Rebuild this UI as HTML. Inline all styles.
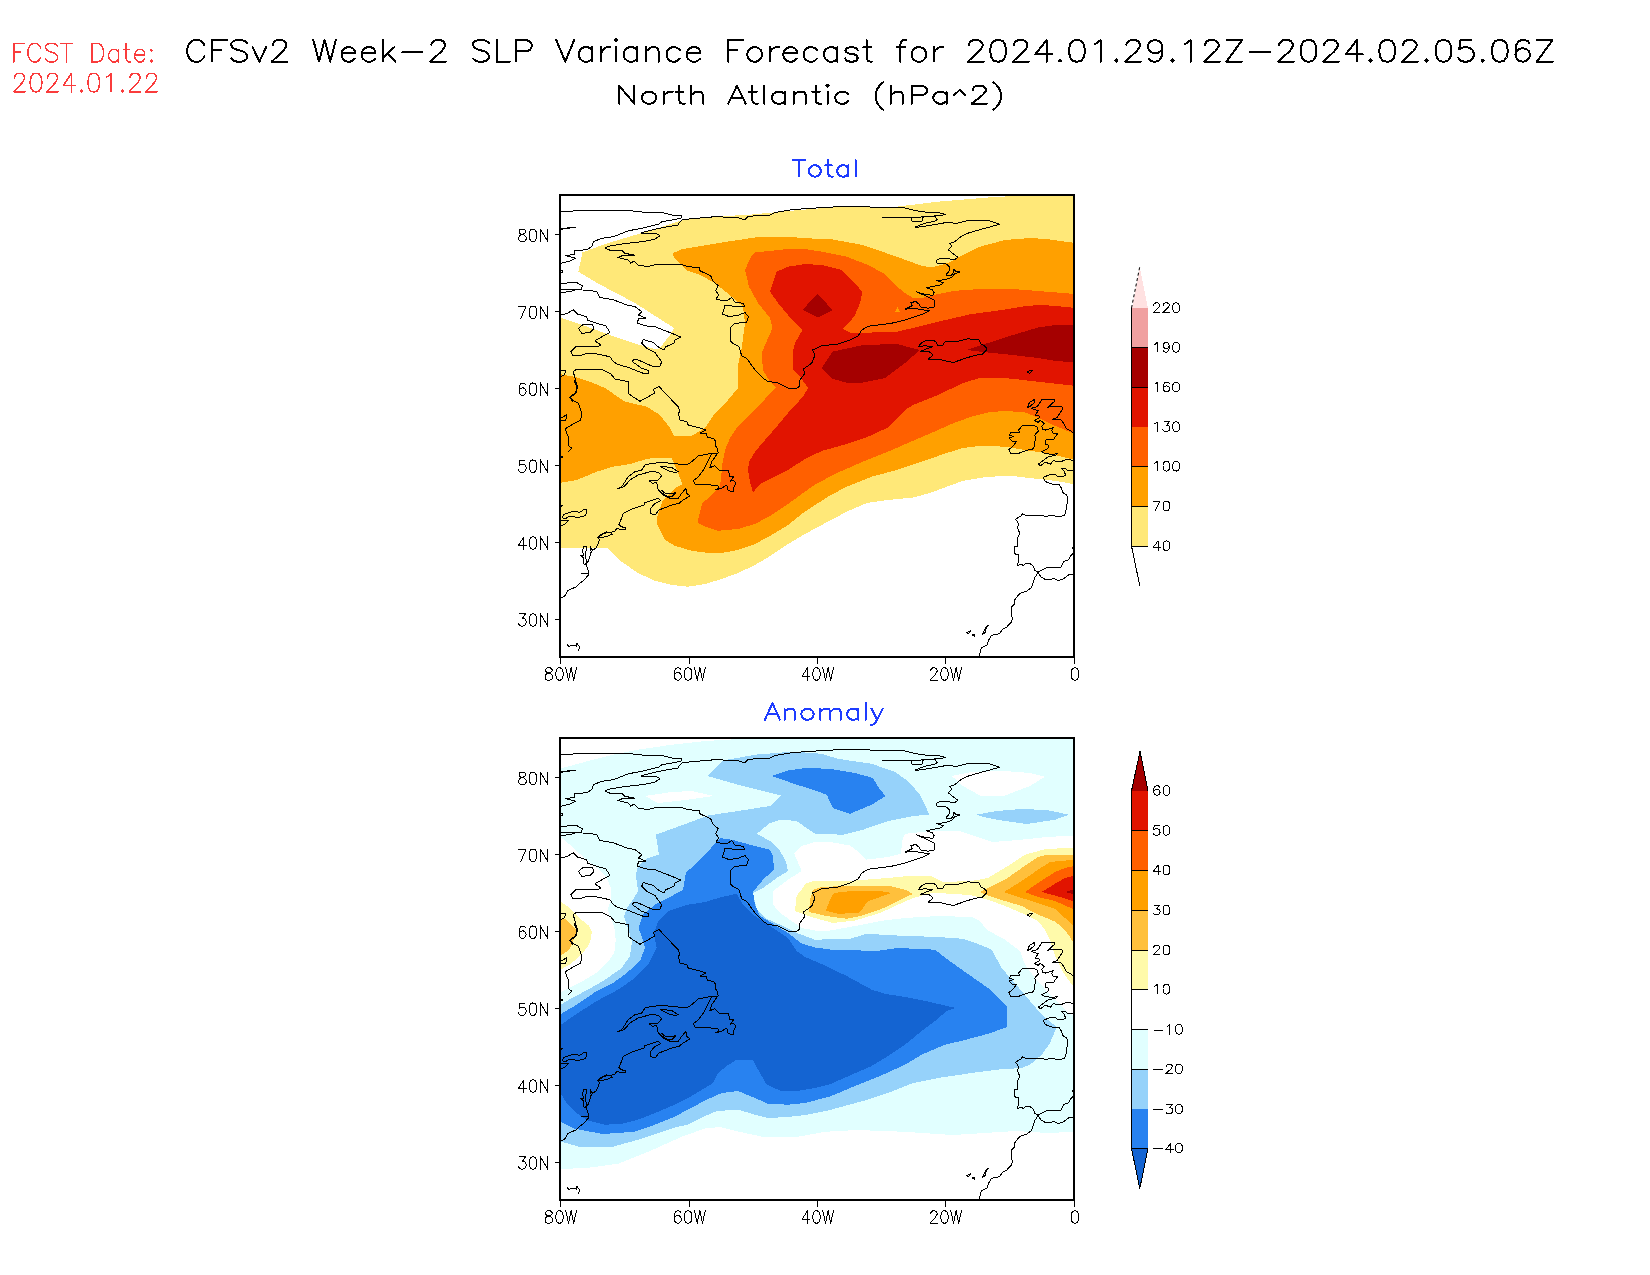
<!DOCTYPE html>
<html><head><meta charset="utf-8"><title>CFSv2 Week-2 SLP Variance Forecast - North Atlantic</title>
<style>
html,body{margin:0;padding:0;background:#fff;}
body{width:1650px;height:1275px;overflow:hidden;font-family:"Liberation Sans",sans-serif;}
svg{display:block;position:absolute;left:0;top:0;}
body{position:relative;}
.tl{position:absolute;left:0;top:0;width:1650px;height:1275px;overflow:hidden;}
.tl span{position:absolute;white-space:nowrap;line-height:1;color:transparent;font-family:"Liberation Sans",sans-serif;}
</style></head><body>
<svg width="1650" height="1275" viewBox="0 0 1650 1275">
<rect width="1650" height="1275" fill="#fff"/>
<defs>
<clipPath id="c1"><rect x="560" y="195" width="514" height="462"/></clipPath>
<clipPath id="c2"><rect x="560" y="737.7" width="514" height="462.5"/></clipPath>
<g id="coast" fill="none" stroke="#000" stroke-width="1" stroke-linejoin="round" shape-rendering="crispEdges">
<polyline points="560.8,211.3 580.8,210.8 606.7,210.3 626.7,210.3 641.7,212.0 661.7,212.5 671.7,215.0 681.7,215.8 680.8,218.3 671.7,220.0 661.7,221.7 659.0,224.0 641.7,228.3 628.3,230.8 613.3,236.7 601.7,238.3 593.3,241.7 591.7,246.7 586.7,249.7 574.0,250.8 575.0,254.0 565.8,255.8 575.8,258.3 570.8,260.8 560.8,263.3"/>
<polyline points="560.8,229.0 570.0,227.5 575.8,227.3 566.0,228.5 560.8,229.5"/>
<polyline points="560.8,270.0 562.5,270.0 562.5,272.5 560.8,272.5"/>
<polyline points="681.7,220.0 679.0,223.0 678.3,225.0 663.3,227.5 648.3,230.8 640.8,233.0 656.7,233.7 660.0,235.8 655.0,239.0 645.0,241.3 621.7,244.0 608.3,246.3 605.0,248.3 611.7,250.8 621.7,250.3 625.0,253.3 635.0,255.3 623.3,255.3 617.5,257.5 628.3,260.0 630.8,263.3 634.0,260.8 638.3,265.0 647.5,266.7 655.0,264.7 681.7,264.7 688.3,266.7 699.0,267.5 700.0,270.8 710.8,275.8 712.5,280.8 718.3,285.8 715.8,290.8 719.0,295.0 715.8,299.0 721.7,300.5 728.3,300.0 731.7,297.5 735.0,302.0 743.3,303.3 745.0,306.7 738.3,306.7 725.0,305.3 722.5,314.0 728.3,316.3 736.7,315.8 745.0,312.5 748.3,316.7 746.7,322.5 735.0,323.3 730.0,328.3 730.0,340.0 732.5,343.3 739.0,346.7 741.7,355.8 746.7,358.3 755.0,370.0 763.3,378.3 768.3,381.7 776.7,382.5 788.3,388.3 795.0,389.0 799.0,386.7 800.0,380.0 805.0,373.3 803.3,369.0 811.7,363.3 815.0,355.0 812.5,350.0 821.7,345.8 838.3,344.0 850.0,340.0 858.3,335.8 861.7,330.0 867.5,326.7 870.0,326.0 890.4,323.5 905.7,319.9 921.0,314.8 929.7,310.7 921.0,309.7 914.9,308.2 905.2,309.2 912.3,305.6 910.8,302.6 915.9,301.5 918.9,304.1 921.0,307.1 928.1,308.2 934.2,307.1 934.2,300.0 927.1,296.4 916.4,291.8 923.0,293.9 932.7,295.4 934.2,292.9 932.2,289.8 926.6,287.8 931.2,286.7 941.4,284.7 943.4,282.7 936.3,280.6 945.5,279.6 951.6,277.6 954.5,274.0 959.7,272.0 956.2,271.5 953.6,269.4 954.1,272.0 951.6,275.0 946.0,275.0 949.5,270.4 949.0,266.4 945.5,263.3 937.3,263.3 936.3,261.3 937.8,259.2 944.4,258.2 954.6,259.7 957.7,257.2 953.6,254.1 948.5,250.0 951.6,246.0 950.0,243.4 954.6,241.9 960.8,236.8 967.9,233.2 980.1,229.6 991.3,226.6 999.5,224.3 990.3,221.0 975.0,220.5 967.9,220.5 956.7,223.3 946.5,222.5 931.2,225.1 918.9,227.1 915.4,227.1 924.0,223.5 935.3,221.0 937.3,220.0 935.3,216.9 924.0,216.9 922.5,217.9 922.0,221.0 911.8,221.0 911.8,217.9 882.2,217.9 910.8,217.4 924.0,216.9 935.3,215.9 941.4,215.4 945.5,214.4 939.3,212.8 927.1,212.3 918.9,211.3 903.6,207.7 897.5,207.0 870.0,207.0 838.3,206.7 805.0,208.7 791.7,209.7 775.0,212.5 770.0,215.0 748.3,216.3 745.0,219.7 736.7,217.5 715.0,216.7 681.7,219.7"/>
<polyline points="560.8,283.3 576.7,282.5 582.5,285.8 580.8,290.0 575.0,289.0 560.8,289.7"/>
<polyline points="560.8,292.5 570.0,291.7 576.7,289.2"/>
<polyline points="582.5,290.0 596.7,291.3 600.0,297.5 613.3,299.7 626.7,305.0 635.0,306.7 641.7,311.7 638.3,315.0 645.8,318.0 638.3,319.0 637.5,323.3 645.0,325.8 655.0,326.7 671.7,333.3 680.8,337.0 675.0,340.0 674.0,343.3 665.8,346.7 664.0,350.0 659.0,347.5 653.3,342.5 643.3,339.5 641.7,343.3 646.7,348.3 655.0,352.5 659.0,358.3 661.7,361.7 660.0,366.3 653.3,366.7 638.3,360.0 633.3,359.7 632.5,361.7 641.7,368.3 649.0,370.8 648.3,373.3 643.3,373.3 628.3,367.5 616.7,364.0 612.5,360.8 610.0,356.7 596.7,354.0 586.7,353.3 581.7,355.0 572.5,355.0 570.8,351.7 575.8,346.7 588.3,346.7 596.7,347.0 600.8,345.0 595.0,340.8 605.0,335.0 610.0,332.5 605.8,325.8 596.7,323.3 587.5,320.0 586.7,317.0 577.5,314.0 573.3,309.7 566.7,313.7 560.8,314.7"/>
<polyline points="578.3,328.3 584.0,324.0 592.5,325.0 594.0,328.3 590.0,332.5 581.7,333.3 578.3,328.3"/>
<polyline points="560.8,370.8 565.8,370.8 564.0,375.0 560.8,376.7"/>
<polyline points="572.5,402.0 570.0,397.5 575.8,393.3 577.5,386.7 575.0,378.3 573.3,371.7 576.7,369.0 596.7,370.0 600.8,369.0 610.8,374.0 615.0,379.0 628.3,381.7 628.3,393.3 633.3,397.0 640.0,401.3 655.0,393.0 653.3,389.5 659.0,386.5 673.3,401.7 678.3,406.7 680.0,411.7 678.3,413.3 680.0,420.0 686.7,421.7 688.3,425.0 698.3,427.5 705.8,430.0 700.0,433.3 705.8,433.0 707.5,437.5 713.3,438.3 715.8,441.7 715.0,445.0 717.5,449.0 718.3,453.0 708.3,454.0 698.3,455.8 691.7,461.7 688.3,464.0 678.3,464.0 663.3,462.5 651.7,463.3 645.0,465.0 641.7,470.0 635.0,471.7 628.3,476.7 621.7,486.7 617.5,489.0 624.0,486.7 630.0,480.0 638.3,475.0 651.7,471.3 658.3,472.5 661.7,475.8 658.3,480.0 649.0,480.8 652.5,483.3 656.7,482.5 658.3,490.0 663.3,495.0 670.0,498.3 678.3,498.3 681.7,493.3 685.8,488.3 686.7,493.3 690.0,495.8 683.3,500.0 679.0,503.3 671.7,505.0 659.0,510.0 655.0,515.0 650.0,513.3 650.0,509.0 655.0,503.3 660.8,500.8 658.3,498.3 653.3,500.0 645.0,502.5 644.0,505.0 631.7,509.0 623.3,513.3 620.8,520.0 618.7,524.4 620.9,526.6 625.3,527.7 625.3,529.3 620.9,529.9 617.0,528.2 614.8,531.0 611.0,532.6 606.6,532.0 601.1,534.3 597.8,537.6 599.5,539.8 598.4,543.0 596.2,548.0 592.3,550.2 590.1,546.4 591.2,551.8 589.6,557.3 587.9,561.7 585.7,563.9 587.4,568.3 588.5,571.6 589.0,574.9 586.8,576.6 584.6,579.8 581.4,582.0 575.9,587.0 568.2,590.3 564.9,595.8 561.0,598.0"/>
<polyline points="597.8,537.6 603.3,533.7 609.9,532.0 612.1,534.3 606.6,536.5 601.1,537.6 597.8,537.6"/>
<polyline points="586.8,546.4 583.5,546.9 582.5,551.8 584.1,555.1 580.8,555.7 583.5,557.9 583.5,563.9 586.3,565.0 585.7,553.0 586.8,546.4"/>
<polyline points="581.4,573.3 588.5,573.3"/>
<polyline points="574.0,380.0 576.7,386.7 575.8,392.5 570.0,396.7 572.5,400.0 578.3,403.3 581.7,413.3 580.8,420.0 573.3,424.0 565.0,429.0 568.3,436.7 569.0,445.8 571.7,448.3 567.5,452.5"/>
<polyline points="560.8,418.3 566.7,414.7 565.8,420.8 560.8,420.0"/>
<polyline points="560.8,456.0 562.5,456.0 562.5,457.5 560.8,457.5"/>
<polyline points="562.0,517.2 563.8,514.5 568.7,512.6 574.2,511.2 579.7,512.3 584.0,509.6 586.9,509.3 585.8,515.6 582.5,516.2 578.6,517.3 575.3,517.3 573.0,516.2 568.7,516.4 566.0,518.4 563.8,518.4 562.0,517.2"/>
<polyline points="560.8,520.3 568.7,520.3 564.9,524.4 560.8,526.0"/>
<polyline points="560.8,505.0 562.7,505.5 560.8,507.0"/>
<polyline points="660.0,466.3 671.7,467.5 678.3,471.7 675.0,472.5 668.3,470.8 660.0,466.3"/>
<polyline points="661.7,490.0 665.0,493.3 671.7,494.0 675.8,492.5 671.7,496.7 665.0,495.8 661.7,490.0"/>
<polyline points="717.5,453.3 711.7,454.0 703.3,470.0 698.3,476.7 693.3,480.8 695.0,484.0 705.0,484.7 717.5,485.3 719.0,488.3 715.8,489.7 721.7,488.3 726.7,485.0 728.3,490.8 733.3,491.3 734.0,486.7 735.8,483.3 733.3,480.0 730.0,481.7 734.0,476.3 730.0,476.7 728.3,470.8 719.0,470.0 715.0,465.8 710.0,467.5 711.7,461.7 717.5,453.3"/>
<polyline points="918.3,346.7 921.7,342.5 927.5,340.0 933.3,340.0 936.7,342.5 937.5,345.8 942.5,345.8 945.0,341.7 951.7,342.0 960.8,340.8 969.0,338.3 971.7,340.0 979.0,339.7 980.8,344.0 985.8,346.7 986.7,350.0 982.5,354.0 973.3,355.8 963.3,359.0 953.3,362.5 941.7,360.0 928.3,359.0 933.3,355.0 929.0,351.7 920.0,351.3 928.3,348.3 932.5,346.7 925.0,345.8 918.3,346.7"/>
<polyline points="1026.7,371.7 1033.3,370.0 1030.0,373.3 1026.7,371.7"/>
<polyline points="1027.1,407.7 1029.7,402.1 1034.4,399.5 1034.0,402.9 1030.6,406.0 1027.1,407.7"/>
<polyline points="1072.8,460.3 1066.8,459.5 1060.8,461.6 1053.0,460.8 1050.4,464.2 1045.2,462.0 1040.5,465.9 1038.3,464.2 1048.7,456.4 1055.6,455.6 1057.7,453.4 1052.1,454.7 1043.9,453.0 1041.8,451.7 1047.8,448.7 1048.7,445.2 1045.2,443.9 1046.1,439.6 1053.8,439.6 1054.3,438.3 1057.7,433.6 1053.8,434.0 1051.7,430.6 1053.4,427.5 1045.2,430.1 1042.6,429.3 1041.8,426.2 1044.4,423.2 1040.0,420.2 1038.3,422.4 1034.4,420.6 1039.6,417.6 1039.2,415.9 1035.3,415.0 1038.3,410.7 1034.9,409.8 1031.4,408.1 1036.6,406.8 1038.7,404.7 1041.8,399.3 1054.3,399.3 1054.7,401.2 1047.8,407.3 1052.1,406.4 1061.6,406.4 1062.9,408.6 1056.9,417.6 1052.1,419.3 1060.8,419.8 1063.3,422.8 1066.4,428.8 1071.5,431.4 1072.8,433.1"/>
<polyline points="1022.4,425.2 1034.0,425.2 1037.0,427.1 1038.3,431.0 1034.9,434.9 1035.3,438.3 1034.4,446.9 1032.3,449.1 1026.2,450.4 1018.5,453.4 1010.7,453.4 1008.6,449.5 1011.6,447.8 1016.3,441.8 1011.6,440.9 1009.4,437.9 1013.7,436.6 1009.4,435.3 1010.7,432.7 1019.3,432.3 1018.5,429.7 1020.2,428.4 1022.4,425.2"/>
<polyline points="1072.8,470.2 1067.7,470.7 1065.1,468.5 1061.6,468.5 1064.2,471.5 1065.9,475.8 1058.2,476.7 1054.7,474.1 1050.4,474.6 1043.5,477.1 1044.4,480.6 1046.9,482.3 1053.8,484.5 1059.0,484.5 1061.6,488.4 1062.9,492.7 1066.8,494.8 1067.7,500.0 1067.2,503.8 1066.4,504.7 1065.9,512.4 1064.2,515.9 1055.6,516.3 1053.8,515.5 1049.5,515.9 1044.4,516.3 1043.1,515.5 1026.2,515.5 1022.4,513.7 1021.1,515.9 1015.5,519.3 1017.6,521.9 1018.5,524.1 1017.6,528.0 1019.3,532.3 1019.3,534.0 1017.6,538.3 1017.4,546.1 1015.0,546.5 1014.2,548.7 1014.6,553.0 1015.9,554.3 1018.6,554.3 1018.5,562.5 1017.4,564.2 1017.6,565.5 1021.1,564.2 1023.2,565.5 1026.2,563.3 1029.7,563.3 1032.7,565.5 1034.9,570.2 1037.9,572.4 1041.8,570.2 1046.9,567.7 1060.8,567.2 1064.2,561.2 1068.5,559.9 1070.2,556.4 1072.8,553.8"/>
<polyline points="1072.8,574.1 1068.9,574.6 1065.9,577.1 1062.5,579.3 1058.2,580.6 1053.8,578.4 1050.4,579.7 1045.2,579.3 1040.9,577.1 1039.2,574.1 1037.9,572.4 1036.2,575.4 1034.4,578.0 1033.1,583.2 1031.0,587.9 1026.2,591.4 1019.8,593.5 1014.3,600.2 1014.3,604.0 1011.0,607.7 1011.5,615.3 1012.4,618.1 1011.5,621.8 1006.3,627.5 1003.0,628.9 999.3,633.6 991.3,635.5 988.9,639.7 987.0,644.9 981.4,647.7 979.0,656.2"/>
<polyline points="966.3,632.7 970.6,630.8 968.2,634.1 966.3,632.7"/>
<polyline points="973.0,634.0 975.0,634.5 974.5,636.2 972.8,635.8 973.0,634.0"/>
<polyline points="982.3,634.1 985.2,628.4 988.4,625.1 986.1,628.0 985.2,632.7 982.3,634.1"/>
<polyline points="1072.6,546.6 1072.6,549.4"/>
<polyline points="567.1,644.6 568.7,646.3 573.7,645.2 576.4,646.3 577.0,643.5 579.7,646.8 578.6,650.7"/>
</g>
</defs>

<path d="M13.8 43.4 L13.8 61.9 M13.8 43.4 L24.7 43.4 M13.8 52.2 L20.5 52.2 M40.6 47.8 L39.8 46.0 L38.1 44.2 L36.4 43.4 L33.1 43.4 L31.4 44.2 L29.7 46.0 L28.9 47.8 L28.0 50.4 L28.0 54.8 L28.9 57.4 L29.7 59.2 L31.4 61.0 L33.1 61.9 L36.4 61.9 L38.1 61.0 L39.8 59.2 L40.6 57.4 M57.4 46.0 L55.7 44.2 L53.2 43.4 L49.8 43.4 L47.3 44.2 L45.6 46.0 L45.6 47.8 L46.5 49.5 L47.3 50.4 L49.0 51.3 L54.0 53.0 L55.7 53.9 L56.6 54.8 L57.4 56.6 L57.4 59.2 L55.7 61.0 L53.2 61.9 L49.8 61.9 L47.3 61.0 L45.6 59.2 M66.6 43.4 L66.6 61.9 M60.8 43.4 L72.5 43.4 M91.8 43.4 L91.8 61.9 M91.8 43.4 L97.7 43.4 L100.2 44.2 L101.9 46.0 L102.7 47.8 L103.6 50.4 L103.6 54.8 L102.7 57.4 L101.9 59.2 L100.2 61.0 L97.7 61.9 L91.8 61.9 M118.7 49.5 L118.7 61.9 M118.7 52.2 L117.0 50.4 L115.3 49.5 L112.8 49.5 L111.1 50.4 L109.4 52.2 L108.6 54.8 L108.6 56.6 L109.4 59.2 L111.1 61.0 L112.8 61.9 L115.3 61.9 L117.0 61.0 L118.7 59.2 M126.2 43.4 L126.2 58.3 L127.1 61.0 L128.7 61.9 L130.4 61.9 M123.7 49.5 L129.6 49.5 M134.6 54.8 L144.7 54.8 L144.7 53.0 L143.9 51.3 L143.0 50.4 L141.3 49.5 L138.8 49.5 L137.1 50.4 L135.5 52.2 L134.6 54.8 L134.6 56.6 L135.5 59.2 L137.1 61.0 L138.8 61.9 L141.3 61.9 L143.0 61.0 L144.7 59.2 M151.4 49.5 L150.6 50.4 L151.4 51.3 L152.2 50.4 L151.4 49.5 M151.4 60.1 L150.6 61.0 L151.4 61.9 L152.2 61.0 L151.4 60.1" stroke="#fa3c3c" stroke-width="1.5" fill="none" stroke-linecap="round" stroke-linejoin="round" shape-rendering="crispEdges"><title>FCST Date:</title></path>
<path d="M14.6 77.8 L14.6 76.9 L15.4 75.1 L16.2 74.2 L17.9 73.3 L21.2 73.3 L22.8 74.2 L23.6 75.1 L24.5 76.9 L24.5 78.6 L23.6 80.4 L22.0 83.0 L13.8 91.8 L25.3 91.8 M35.2 73.3 L32.7 74.2 L31.1 76.9 L30.2 81.3 L30.2 83.9 L31.1 88.3 L32.7 91.0 L35.2 91.8 L36.8 91.8 L39.3 91.0 L41.0 88.3 L41.8 83.9 L41.8 81.3 L41.0 76.9 L39.3 74.2 L36.8 73.3 L35.2 73.3 M47.6 77.8 L47.6 76.9 L48.4 75.1 L49.2 74.2 L50.9 73.3 L54.2 73.3 L55.8 74.2 L56.6 75.1 L57.5 76.9 L57.5 78.6 L56.6 80.4 L55.0 83.0 L46.7 91.8 L58.3 91.8 M71.5 73.3 L63.2 85.7 L75.6 85.7 M71.5 73.3 L71.5 91.8 M81.4 90.1 L80.6 91.0 L81.4 91.8 L82.2 91.0 L81.4 90.1 M92.9 73.3 L90.4 74.2 L88.8 76.9 L88.0 81.3 L88.0 83.9 L88.8 88.3 L90.4 91.0 L92.9 91.8 L94.6 91.8 L97.0 91.0 L98.7 88.3 L99.5 83.9 L99.5 81.3 L98.7 76.9 L97.0 74.2 L94.6 73.3 L92.9 73.3 M106.9 76.9 L108.6 76.0 L111.1 73.3 L111.1 91.8 M122.6 90.1 L121.8 91.0 L122.6 91.8 L123.4 91.0 L122.6 90.1 M130.0 77.8 L130.0 76.9 L130.9 75.1 L131.7 74.2 L133.3 73.3 L136.6 73.3 L138.3 74.2 L139.1 75.1 L139.9 76.9 L139.9 78.6 L139.1 80.4 L137.5 83.0 L129.2 91.8 L140.8 91.8 M146.5 77.8 L146.5 76.9 L147.4 75.1 L148.2 74.2 L149.8 73.3 L153.1 73.3 L154.8 74.2 L155.6 75.1 L156.4 76.9 L156.4 78.6 L155.6 80.4 L154.0 83.0 L145.7 91.8 L157.2 91.8" stroke="#fa3c3c" stroke-width="1.5" fill="none" stroke-linecap="round" stroke-linejoin="round" shape-rendering="crispEdges"><title>2024.01.22</title></path>
<path d="M204.3 45.1 L203.1 43.1 L200.9 41.0 L198.6 40.0 L194.1 40.0 L191.9 41.0 L189.6 43.1 L188.5 45.1 L187.4 48.2 L187.4 53.4 L188.5 56.5 L189.6 58.5 L191.9 60.6 L194.1 61.6 L198.6 61.6 L200.9 60.6 L203.1 58.5 L204.3 56.5 M212.1 40.0 L212.1 61.6 M212.1 40.0 L226.8 40.0 M212.1 50.3 L221.1 50.3 M247.0 43.1 L244.8 41.0 L241.4 40.0 L236.9 40.0 L233.5 41.0 L231.3 43.1 L231.3 45.1 L232.4 47.2 L233.5 48.2 L235.8 49.3 L242.5 51.3 L244.8 52.3 L245.9 53.4 L247.0 55.4 L247.0 58.5 L244.8 60.6 L241.4 61.6 L236.9 61.6 L233.5 60.6 L231.3 58.5 M252.6 47.2 L259.4 61.6 M266.1 47.2 L259.4 61.6 M272.9 45.1 L272.9 44.1 L274.0 42.1 L275.1 41.0 L277.4 40.0 L281.9 40.0 L284.1 41.0 L285.2 42.1 L286.4 44.1 L286.4 46.2 L285.2 48.2 L283.0 51.3 L271.7 61.6 L287.5 61.6 M313.3 40.0 L319.0 61.6 M324.6 40.0 L319.0 61.6 M324.6 40.0 L330.2 61.6 M335.8 40.0 L330.2 61.6 M341.5 53.4 L355.0 53.4 L355.0 51.3 L353.8 49.3 L352.7 48.2 L350.5 47.2 L347.1 47.2 L344.8 48.2 L342.6 50.3 L341.5 53.4 L341.5 55.4 L342.6 58.5 L344.8 60.6 L347.1 61.6 L350.5 61.6 L352.7 60.6 L355.0 58.5 M361.7 53.4 L375.2 53.4 L375.2 51.3 L374.1 49.3 L373.0 48.2 L370.7 47.2 L367.3 47.2 L365.1 48.2 L362.8 50.3 L361.7 53.4 L361.7 55.4 L362.8 58.5 L365.1 60.6 L367.3 61.6 L370.7 61.6 L373.0 60.6 L375.2 58.5 M383.1 40.0 L383.1 61.6 M394.3 47.2 L383.1 57.5 M387.6 53.4 L395.4 61.6 M402.2 52.3 L422.4 52.3 M431.4 45.1 L431.4 44.1 L432.6 42.1 L433.7 41.0 L435.9 40.0 L440.4 40.0 L442.7 41.0 L443.8 42.1 L444.9 44.1 L444.9 46.2 L443.8 48.2 L441.5 51.3 L430.3 61.6 L446.0 61.6 M488.8 43.1 L486.5 41.0 L483.2 40.0 L478.7 40.0 L475.3 41.0 L473.0 43.1 L473.0 45.1 L474.2 47.2 L475.3 48.2 L477.5 49.3 L484.3 51.3 L486.5 52.3 L487.7 53.4 L488.8 55.4 L488.8 58.5 L486.5 60.6 L483.2 61.6 L478.7 61.6 L475.3 60.6 L473.0 58.5 M496.7 40.0 L496.7 61.6 M496.7 61.6 L510.1 61.6 M515.8 40.0 L515.8 61.6 M515.8 40.0 L525.9 40.0 L529.3 41.0 L530.4 42.1 L531.5 44.1 L531.5 47.2 L530.4 49.3 L529.3 50.3 L525.9 51.3 L515.8 51.3 M556.3 40.0 L565.2 61.6 M574.2 40.0 L565.2 61.6 M592.2 47.2 L592.2 61.6 M592.2 50.3 L590.0 48.2 L587.7 47.2 L584.4 47.2 L582.1 48.2 L579.9 50.3 L578.7 53.4 L578.7 55.4 L579.9 58.5 L582.1 60.6 L584.4 61.6 L587.7 61.6 L590.0 60.6 L592.2 58.5 M601.2 47.2 L601.2 61.6 M601.2 53.4 L602.4 50.3 L604.6 48.2 L606.9 47.2 L610.2 47.2 M614.7 40.0 L615.9 41.0 L617.0 40.0 L615.9 39.0 L614.7 40.0 M615.9 47.2 L615.9 61.6 M637.2 47.2 L637.2 61.6 M637.2 50.3 L635.0 48.2 L632.7 47.2 L629.3 47.2 L627.1 48.2 L624.8 50.3 L623.7 53.4 L623.7 55.4 L624.8 58.5 L627.1 60.6 L629.3 61.6 L632.7 61.6 L635.0 60.6 L637.2 58.5 M646.2 47.2 L646.2 61.6 M646.2 51.3 L649.6 48.2 L651.8 47.2 L655.2 47.2 L657.5 48.2 L658.6 51.3 L658.6 61.6 M680.0 50.3 L677.7 48.2 L675.5 47.2 L672.1 47.2 L669.8 48.2 L667.6 50.3 L666.5 53.4 L666.5 55.4 L667.6 58.5 L669.8 60.6 L672.1 61.6 L675.5 61.6 L677.7 60.6 L680.0 58.5 M686.7 53.4 L700.2 53.4 L700.2 51.3 L699.1 49.3 L697.9 48.2 L695.7 47.2 L692.3 47.2 L690.1 48.2 L687.8 50.3 L686.7 53.4 L686.7 55.4 L687.8 58.5 L690.1 60.6 L692.3 61.6 L695.7 61.6 L697.9 60.6 L700.2 58.5 M728.3 40.0 L728.3 61.6 M728.3 40.0 L742.9 40.0 M728.3 50.3 L737.3 50.3 M753.0 47.2 L750.8 48.2 L748.5 50.3 L747.4 53.4 L747.4 55.4 L748.5 58.5 L750.8 60.6 L753.0 61.6 L756.4 61.6 L758.7 60.6 L760.9 58.5 L762.0 55.4 L762.0 53.4 L760.9 50.3 L758.7 48.2 L756.4 47.2 L753.0 47.2 M769.9 47.2 L769.9 61.6 M769.9 53.4 L771.0 50.3 L773.3 48.2 L775.5 47.2 L778.9 47.2 M783.4 53.4 L796.9 53.4 L796.9 51.3 L795.8 49.3 L794.7 48.2 L792.4 47.2 L789.0 47.2 L786.8 48.2 L784.5 50.3 L783.4 53.4 L783.4 55.4 L784.5 58.5 L786.8 60.6 L789.0 61.6 L792.4 61.6 L794.7 60.6 L796.9 58.5 M817.1 50.3 L814.9 48.2 L812.6 47.2 L809.3 47.2 L807.0 48.2 L804.8 50.3 L803.7 53.4 L803.7 55.4 L804.8 58.5 L807.0 60.6 L809.3 61.6 L812.6 61.6 L814.9 60.6 L817.1 58.5 M837.4 47.2 L837.4 61.6 M837.4 50.3 L835.1 48.2 L832.9 47.2 L829.5 47.2 L827.3 48.2 L825.0 50.3 L823.9 53.4 L823.9 55.4 L825.0 58.5 L827.3 60.6 L829.5 61.6 L832.9 61.6 L835.1 60.6 L837.4 58.5 M857.6 50.3 L856.5 48.2 L853.1 47.2 L849.8 47.2 L846.4 48.2 L845.3 50.3 L846.4 52.3 L848.6 53.4 L854.3 54.4 L856.5 55.4 L857.6 57.5 L857.6 58.5 L856.5 60.6 L853.1 61.6 L849.8 61.6 L846.4 60.6 L845.3 58.5 M866.6 40.0 L866.6 57.5 L867.8 60.6 L870.0 61.6 L872.2 61.6 M863.3 47.2 L871.1 47.2 M906.0 40.0 L903.7 40.0 L901.5 41.0 L900.4 44.1 L900.4 61.6 M897.0 47.2 L904.9 47.2 M917.2 47.2 L915.0 48.2 L912.7 50.3 L911.6 53.4 L911.6 55.4 L912.7 58.5 L915.0 60.6 L917.2 61.6 L920.6 61.6 L922.9 60.6 L925.1 58.5 L926.2 55.4 L926.2 53.4 L925.1 50.3 L922.9 48.2 L920.6 47.2 L917.2 47.2 M934.1 47.2 L934.1 61.6 M934.1 53.4 L935.2 50.3 L937.5 48.2 L939.7 47.2 L943.1 47.2 M969.0 45.1 L969.0 44.1 L970.1 42.1 L971.2 41.0 L973.5 40.0 L978.0 40.0 L980.2 41.0 L981.3 42.1 L982.5 44.1 L982.5 46.2 L981.3 48.2 L979.1 51.3 L967.8 61.6 L983.6 61.6 M997.1 40.0 L993.7 41.0 L991.5 44.1 L990.3 49.3 L990.3 52.3 L991.5 57.5 L993.7 60.6 L997.1 61.6 L999.3 61.6 L1002.7 60.6 L1004.9 57.5 L1006.1 52.3 L1006.1 49.3 L1004.9 44.1 L1002.7 41.0 L999.3 40.0 L997.1 40.0 M1013.9 45.1 L1013.9 44.1 L1015.1 42.1 L1016.2 41.0 L1018.4 40.0 L1022.9 40.0 L1025.2 41.0 L1026.3 42.1 L1027.4 44.1 L1027.4 46.2 L1026.3 48.2 L1024.1 51.3 L1012.8 61.6 L1028.6 61.6 M1046.6 40.0 L1035.3 54.4 L1052.2 54.4 M1046.6 40.0 L1046.6 61.6 M1060.0 59.5 L1058.9 60.6 L1060.0 61.6 L1061.2 60.6 L1060.0 59.5 M1075.8 40.0 L1072.4 41.0 L1070.2 44.1 L1069.0 49.3 L1069.0 52.3 L1070.2 57.5 L1072.4 60.6 L1075.8 61.6 L1078.0 61.6 L1081.4 60.6 L1083.7 57.5 L1084.8 52.3 L1084.8 49.3 L1083.7 44.1 L1081.4 41.0 L1078.0 40.0 L1075.8 40.0 M1094.9 44.1 L1097.2 43.1 L1100.5 40.0 L1100.5 61.6 M1116.3 59.5 L1115.2 60.6 L1116.3 61.6 L1117.4 60.6 L1116.3 59.5 M1126.4 45.1 L1126.4 44.1 L1127.5 42.1 L1128.6 41.0 L1130.9 40.0 L1135.4 40.0 L1137.6 41.0 L1138.8 42.1 L1139.9 44.1 L1139.9 46.2 L1138.8 48.2 L1136.5 51.3 L1125.3 61.6 L1141.0 61.6 M1162.4 47.2 L1161.3 50.3 L1159.0 52.3 L1155.6 53.4 L1154.5 53.4 L1151.1 52.3 L1148.9 50.3 L1147.8 47.2 L1147.8 46.2 L1148.9 43.1 L1151.1 41.0 L1154.5 40.0 L1155.6 40.0 L1159.0 41.0 L1161.3 43.1 L1162.4 47.2 L1162.4 52.3 L1161.3 57.5 L1159.0 60.6 L1155.6 61.6 L1153.4 61.6 L1150.0 60.6 L1148.9 58.5 M1172.5 59.5 L1171.4 60.6 L1172.5 61.6 L1173.6 60.6 L1172.5 59.5 M1184.9 44.1 L1187.1 43.1 L1190.5 40.0 L1190.5 61.6 M1205.1 45.1 L1205.1 44.1 L1206.2 42.1 L1207.4 41.0 L1209.6 40.0 L1214.1 40.0 L1216.4 41.0 L1217.5 42.1 L1218.6 44.1 L1218.6 46.2 L1217.5 48.2 L1215.2 51.3 L1204.0 61.6 L1219.7 61.6 M1242.2 40.0 L1226.5 61.6 M1226.5 40.0 L1242.2 40.0 M1226.5 61.6 L1242.2 61.6 M1250.1 52.3 L1270.3 52.3 M1279.3 45.1 L1279.3 44.1 L1280.5 42.1 L1281.6 41.0 L1283.8 40.0 L1288.3 40.0 L1290.6 41.0 L1291.7 42.1 L1292.8 44.1 L1292.8 46.2 L1291.7 48.2 L1289.5 51.3 L1278.2 61.6 L1294.0 61.6 M1307.4 40.0 L1304.1 41.0 L1301.8 44.1 L1300.7 49.3 L1300.7 52.3 L1301.8 57.5 L1304.1 60.6 L1307.4 61.6 L1309.7 61.6 L1313.1 60.6 L1315.3 57.5 L1316.4 52.3 L1316.4 49.3 L1315.3 44.1 L1313.1 41.0 L1309.7 40.0 L1307.4 40.0 M1324.3 45.1 L1324.3 44.1 L1325.4 42.1 L1326.6 41.0 L1328.8 40.0 L1333.3 40.0 L1335.6 41.0 L1336.7 42.1 L1337.8 44.1 L1337.8 46.2 L1336.7 48.2 L1334.4 51.3 L1323.2 61.6 L1338.9 61.6 M1356.9 40.0 L1345.7 54.4 L1362.6 54.4 M1356.9 40.0 L1356.9 61.6 M1370.4 59.5 L1369.3 60.6 L1370.4 61.6 L1371.5 60.6 L1370.4 59.5 M1386.2 40.0 L1382.8 41.0 L1380.5 44.1 L1379.4 49.3 L1379.4 52.3 L1380.5 57.5 L1382.8 60.6 L1386.2 61.6 L1388.4 61.6 L1391.8 60.6 L1394.0 57.5 L1395.2 52.3 L1395.2 49.3 L1394.0 44.1 L1391.8 41.0 L1388.4 40.0 L1386.2 40.0 M1403.0 45.1 L1403.0 44.1 L1404.2 42.1 L1405.3 41.0 L1407.5 40.0 L1412.0 40.0 L1414.3 41.0 L1415.4 42.1 L1416.5 44.1 L1416.5 46.2 L1415.4 48.2 L1413.2 51.3 L1401.9 61.6 L1417.7 61.6 M1426.7 59.5 L1425.5 60.6 L1426.7 61.6 L1427.8 60.6 L1426.7 59.5 M1442.4 40.0 L1439.0 41.0 L1436.8 44.1 L1435.6 49.3 L1435.6 52.3 L1436.8 57.5 L1439.0 60.6 L1442.4 61.6 L1444.6 61.6 L1448.0 60.6 L1450.3 57.5 L1451.4 52.3 L1451.4 49.3 L1450.3 44.1 L1448.0 41.0 L1444.6 40.0 L1442.4 40.0 M1471.6 40.0 L1460.4 40.0 L1459.3 49.3 L1460.4 48.2 L1463.8 47.2 L1467.1 47.2 L1470.5 48.2 L1472.8 50.3 L1473.9 53.4 L1473.9 55.4 L1472.8 58.5 L1470.5 60.6 L1467.1 61.6 L1463.8 61.6 L1460.4 60.6 L1459.3 59.5 L1458.1 57.5 M1482.9 59.5 L1481.8 60.6 L1482.9 61.6 L1484.0 60.6 L1482.9 59.5 M1498.6 40.0 L1495.2 41.0 L1493.0 44.1 L1491.9 49.3 L1491.9 52.3 L1493.0 57.5 L1495.2 60.6 L1498.6 61.6 L1500.9 61.6 L1504.2 60.6 L1506.5 57.5 L1507.6 52.3 L1507.6 49.3 L1506.5 44.1 L1504.2 41.0 L1500.9 40.0 L1498.6 40.0 M1529.0 43.1 L1527.9 41.0 L1524.5 40.0 L1522.2 40.0 L1518.9 41.0 L1516.6 44.1 L1515.5 49.3 L1515.5 54.4 L1516.6 58.5 L1518.9 60.6 L1522.2 61.6 L1523.4 61.6 L1526.7 60.6 L1529.0 58.5 L1530.1 55.4 L1530.1 54.4 L1529.0 51.3 L1526.7 49.3 L1523.4 48.2 L1522.2 48.2 L1518.9 49.3 L1516.6 51.3 L1515.5 54.4 M1552.6 40.0 L1536.9 61.6 M1536.9 40.0 L1552.6 40.0 M1536.9 61.6 L1552.6 61.6" stroke="#000" stroke-width="2" fill="none" stroke-linecap="round" stroke-linejoin="round" shape-rendering="crispEdges"><title>CFSv2 Week-2 SLP Variance Forecast for 2024.01.29.12Z-2024.02.05.06Z</title></path>
<path d="M619.1 85.7 L619.1 103.7 M619.1 85.7 L634.4 103.7 M634.4 85.7 L634.4 103.7 M647.5 91.7 L645.3 92.6 L643.1 94.3 L642.0 96.8 L642.0 98.6 L643.1 101.1 L645.3 102.8 L647.5 103.7 L650.8 103.7 L652.9 102.8 L655.1 101.1 L656.2 98.6 L656.2 96.8 L655.1 94.3 L652.9 92.6 L650.8 91.7 L647.5 91.7 M663.8 91.7 L663.8 103.7 M663.8 96.8 L664.9 94.3 L667.1 92.6 L669.3 91.7 L672.6 91.7 M679.1 85.7 L679.1 100.3 L680.2 102.8 L682.4 103.7 L684.6 103.7 M675.9 91.7 L683.5 91.7 M691.1 85.7 L691.1 103.7 M691.1 95.1 L694.4 92.6 L696.6 91.7 L699.9 91.7 L702.0 92.6 L703.1 95.1 L703.1 103.7 M737.0 85.7 L728.2 103.7 M737.0 85.7 L745.7 103.7 M731.5 97.7 L742.4 97.7 M752.3 85.7 L752.3 100.3 L753.3 102.8 L755.5 103.7 L757.7 103.7 M749.0 91.7 L756.6 91.7 M764.3 85.7 L764.3 103.7 M785.0 91.7 L785.0 103.7 M785.0 94.3 L782.8 92.6 L780.6 91.7 L777.4 91.7 L775.2 92.6 L773.0 94.3 L771.9 96.8 L771.9 98.6 L773.0 101.1 L775.2 102.8 L777.4 103.7 L780.6 103.7 L782.8 102.8 L785.0 101.1 M793.7 91.7 L793.7 103.7 M793.7 95.1 L797.0 92.6 L799.2 91.7 L802.5 91.7 L804.6 92.6 L805.7 95.1 L805.7 103.7 M815.6 85.7 L815.6 100.3 L816.6 102.8 L818.8 103.7 L821.0 103.7 M812.3 91.7 L819.9 91.7 M826.5 85.7 L827.6 86.6 L828.7 85.7 L827.6 84.8 L826.5 85.7 M827.6 91.7 L827.6 103.7 M848.3 94.3 L846.1 92.6 L843.9 91.7 L840.7 91.7 L838.5 92.6 L836.3 94.3 L835.2 96.8 L835.2 98.6 L836.3 101.1 L838.5 102.8 L840.7 103.7 L843.9 103.7 L846.1 102.8 L848.3 101.1 M883.2 82.3 L881.0 84.0 L878.9 86.6 L876.7 90.0 L875.6 94.3 L875.6 97.7 L876.7 102.0 L878.9 105.4 L881.0 108.0 L883.2 109.7 M890.9 85.7 L890.9 103.7 M890.9 95.1 L894.1 92.6 L896.3 91.7 L899.6 91.7 L901.8 92.6 L902.9 95.1 L902.9 103.7 M911.6 85.7 L911.6 103.7 M911.6 85.7 L921.4 85.7 L924.7 86.6 L925.8 87.4 L926.9 89.1 L926.9 91.7 L925.8 93.4 L924.7 94.3 L921.4 95.1 L911.6 95.1 M946.5 91.7 L946.5 103.7 M946.5 94.3 L944.3 92.6 L942.2 91.7 L938.9 91.7 L936.7 92.6 L934.5 94.3 L933.4 96.8 L933.4 98.6 L934.5 101.1 L936.7 102.8 L938.9 103.7 L942.2 103.7 L944.3 102.8 L946.5 101.1 M954.2 95.1 L959.6 90.0 L965.1 95.1 M972.7 90.0 L972.7 89.1 L973.8 87.4 L974.9 86.6 L977.1 85.7 L981.5 85.7 L983.6 86.6 L984.7 87.4 L985.8 89.1 L985.8 90.8 L984.7 92.6 L982.5 95.1 L971.6 103.7 L986.9 103.7 M993.5 82.3 L995.6 84.0 L997.8 86.6 L1000.0 90.0 L1001.1 94.3 L1001.1 97.7 L1000.0 102.0 L997.8 105.4 L995.6 108.0 L993.5 109.7" stroke="#000" stroke-width="2" fill="none" stroke-linecap="round" stroke-linejoin="round" shape-rendering="crispEdges"><title>North Atlantic (hPa^2)</title></path>
<path d="M798.9 159.8 L798.9 176.5 M792.5 159.8 L805.3 159.8 M813.5 165.4 L811.7 166.2 L809.8 167.8 L808.9 170.1 L808.9 171.7 L809.8 174.1 L811.7 175.7 L813.5 176.5 L816.2 176.5 L818.1 175.7 L819.9 174.1 L820.8 171.7 L820.8 170.1 L819.9 167.8 L818.1 166.2 L816.2 165.4 L813.5 165.4 M828.1 159.8 L828.1 173.3 L829.0 175.7 L830.8 176.5 L832.7 176.5 M825.4 165.4 L831.8 165.4 M848.2 165.4 L848.2 176.5 M848.2 167.8 L846.4 166.2 L844.5 165.4 L841.8 165.4 L840.0 166.2 L838.2 167.8 L837.2 170.1 L837.2 171.7 L838.2 174.1 L840.0 175.7 L841.8 176.5 L844.5 176.5 L846.4 175.7 L848.2 174.1 M855.5 159.8 L855.5 176.5" stroke="#1e3cff" stroke-width="2" fill="none" stroke-linecap="round" stroke-linejoin="round" shape-rendering="crispEdges"><title>Total</title></path>
<path d="M772.4 703.2 L764.9 719.7 M772.4 703.2 L779.9 719.7 M767.7 714.2 L777.1 714.2 M784.5 708.7 L784.5 719.7 M784.5 711.8 L787.3 709.5 L789.2 708.7 L792.0 708.7 L793.9 709.5 L794.8 711.8 L794.8 719.7 M806.0 708.7 L804.2 709.5 L802.3 711.1 L801.4 713.4 L801.4 715.0 L802.3 717.3 L804.2 718.9 L806.0 719.7 L808.8 719.7 L810.7 718.9 L812.6 717.3 L813.5 715.0 L813.5 713.4 L812.6 711.1 L810.7 709.5 L808.8 708.7 L806.0 708.7 M820.1 708.7 L820.1 719.7 M820.1 711.8 L822.9 709.5 L824.7 708.7 L827.5 708.7 L829.4 709.5 L830.3 711.8 L830.3 719.7 M830.3 711.8 L833.1 709.5 L835.0 708.7 L837.8 708.7 L839.7 709.5 L840.6 711.8 L840.6 719.7 M858.4 708.7 L858.4 719.7 M858.4 711.1 L856.5 709.5 L854.7 708.7 L851.8 708.7 L850.0 709.5 L848.1 711.1 L847.2 713.4 L847.2 715.0 L848.1 717.3 L850.0 718.9 L851.8 719.7 L854.7 719.7 L856.5 718.9 L858.4 717.3 M865.9 703.2 L865.9 719.7 M871.5 708.7 L877.1 719.7 M882.7 708.7 L877.1 719.7 L875.2 722.8 L873.4 724.4 L871.5 725.2 L870.5 725.2" stroke="#1e3cff" stroke-width="2" fill="none" stroke-linecap="round" stroke-linejoin="round" shape-rendering="crispEdges"><title>Anomaly</title></path>
<g clip-path="url(#c1)" shape-rendering="crispEdges">
<polygon points="1075.0,194.0 1075.0,484.0 1073.0,484.0 1055.0,480.8 1038.0,479.0 1013.0,476.0 988.0,476.7 963.0,480.8 946.7,486.7 930.0,493.0 913.0,497.5 888.0,500.0 866.7,503.0 846.7,511.7 821.7,525.0 805.0,534.0 788.0,544.0 771.7,555.0 755.0,565.0 738.0,573.0 721.7,579.0 705.0,584.0 688.0,586.7 671.7,585.0 655.0,580.8 638.0,573.0 621.7,561.7 608.0,548.3 559.0,548.3 559.0,318.0 561.0,318.0 577.0,323.0 610.0,335.0 633.0,343.0 655.0,349.0 659.0,349.0 670.0,335.0 674.0,328.0 635.0,303.0 597.0,283.0 578.3,271.7 582.5,252.5 605.0,244.0 655.0,229.0 682.0,220.0 737.0,215.3 747.0,215.0 788.0,211.0 830.0,207.5 838.0,206.7 896.7,206.7 938.0,201.7 988.0,197.5 1013.0,196.0 1040.0,194.0" fill="#ffe878"/>
<polygon points="1075.0,243.0 1046.7,239.0 1030.0,238.0 1005.0,240.0 980.0,246.7 963.0,255.0 948.0,263.0 931.7,267.5 921.7,265.8 896.7,256.7 863.0,245.0 830.0,239.0 805.0,238.3 788.0,236.7 755.0,237.5 721.7,242.5 681.7,249.2 672.5,253.3 675.0,259.0 688.0,271.0 700.0,275.0 715.0,283.0 731.7,296.7 743.0,306.7 745.0,323.0 741.7,348.0 738.0,365.0 738.0,388.0 726.7,401.7 715.0,413.0 705.0,428.0 691.7,435.8 674.0,435.8 670.0,428.0 660.0,415.0 646.7,406.7 625.0,401.7 605.0,388.0 590.7,382.0 575.4,376.9 560.6,374.3 559.0,374.0 559.0,483.0 576.7,480.0 596.7,471.7 613.0,466.7 630.0,464.0 646.7,459.0 658.0,457.5 671.7,458.0 678.0,473.0 682.5,484.0 675.0,488.0 663.0,500.0 656.7,518.0 657.5,525.0 665.0,540.0 675.0,545.8 691.7,550.8 705.0,552.5 721.7,553.0 738.0,550.0 755.0,544.0 771.7,535.0 788.0,525.0 801.7,514.0 815.0,505.0 830.0,495.5 846.7,486.7 871.7,476.7 896.7,470.0 921.7,461.7 946.7,453.0 963.0,448.0 980.0,445.8 1005.0,446.7 1030.0,450.8 1046.7,453.0 1075.0,460.0" fill="#ffa000"/>
<polygon points="1075.0,294.0 1046.7,291.7 1013.0,289.0 980.0,289.0 955.0,290.8 938.0,294.0 921.7,298.0 913.0,298.0 905.0,293.0 895.0,285.0 883.0,273.0 868.0,265.0 846.7,256.7 821.7,251.7 805.0,249.0 788.0,249.0 755.0,252.5 751.0,256.7 745.0,270.0 749.0,286.7 758.0,303.0 770.0,318.0 772.5,328.0 765.0,345.0 761.7,353.0 763.0,370.0 770.0,381.7 776.0,388.0 770.0,393.0 761.7,403.0 746.7,418.0 736.7,428.0 730.0,438.0 725.0,450.0 722.5,463.0 720.8,480.0 720.0,486.7 711.7,495.0 702.5,503.0 700.0,511.7 697.5,523.0 705.0,526.7 718.0,530.8 738.0,529.0 755.0,524.0 771.7,515.0 788.0,504.0 801.7,494.0 815.0,484.5 838.0,472.5 863.0,461.7 888.0,451.7 913.0,440.8 938.0,430.0 955.0,422.5 971.7,416.7 988.0,412.5 1005.0,410.8 1025.0,412.5 1038.0,417.5 1055.0,425.8 1075.0,434.0" fill="#ff6000"/>
<polygon points="1075.0,308.0 1055.0,305.8 1038.0,305.0 1021.7,306.7 996.7,310.8 971.7,314.0 938.0,321.7 913.0,328.0 896.7,331.7 871.7,332.5 850.0,332.5 842.5,329.0 849.0,323.0 855.0,315.0 860.0,303.0 862.5,291.7 853.0,281.7 841.7,270.0 821.7,265.0 805.0,264.0 788.0,266.7 776.7,271.7 770.0,291.7 778.0,303.0 788.0,315.0 802.5,330.0 795.0,343.0 792.5,353.0 793.0,370.0 800.0,376.7 808.0,388.0 803.0,396.7 788.0,413.0 776.7,426.7 765.0,440.0 755.0,451.7 749.0,461.7 748.0,470.0 750.0,481.7 753.0,492.5 760.0,484.0 771.7,478.0 788.0,470.0 805.0,459.0 821.7,451.0 846.7,444.0 868.0,436.7 888.0,427.5 896.7,419.0 905.0,410.0 913.0,405.0 938.0,395.0 963.0,383.0 980.0,378.0 1005.0,378.0 1038.0,381.7 1075.0,385.8" fill="#e11400"/>
<polygon points="817.5,293.5 832.5,310.0 817.5,317.5 802.5,310.0" fill="#a50000"/>
<polygon points="821.7,368.0 832.5,351.7 863.0,345.0 896.7,344.0 920.0,350.0 905.0,363.0 885.0,378.0 863.0,382.5 848.0,383.0 833.0,379.0" fill="#a50000"/>
<polygon points="966.7,350.0 988.0,343.0 1013.0,335.0 1038.0,327.5 1055.0,325.0 1075.0,324.7 1075.0,362.5 1055.0,360.8 1038.0,358.0 1013.0,355.0 988.0,352.5" fill="#a50000"/>
<polygon points="897.5,306.7 895.0,311.7 900.0,311.7" fill="#ffa000"/>
</g>
<g clip-path="url(#c1)"><use href="#coast"/></g>
<g clip-path="url(#c2)" shape-rendering="crispEdges">
<rect x="560" y="737" width="514" height="464" fill="#e1ffff"/>
<polygon points="559.0,737.0 740.0,737.0 740.0,739.0 705.0,741.0 672.0,744.7 638.0,749.7 613.0,754.7 588.0,761.0 559.0,769.0" fill="#ffffff"/>
<polygon points="645.0,796.0 671.7,792.0 691.7,791.0 714.0,796.0 688.0,799.7 658.0,803.0 651.7,799.7" fill="#ffffff"/>
<polygon points="559.0,836.3 561.0,837.3 569.0,844.0 583.0,856.7 597.0,868.0 606.0,876.5 610.7,887.7 611.5,899.0 609.3,904.7 607.5,910.3 611.5,918.8 614.3,927.3 615.7,940.0 614.3,952.7 608.6,961.1 597.3,972.4 583.2,980.9 569.1,987.9 561.0,991.8 559.0,992.5" fill="#ffffff"/>
<polygon points="951.7,776.0 971.7,772.0 1005.0,771.0 1030.0,773.0 1045.0,776.7 1030.0,786.0 1005.0,795.5 980.0,795.5 963.0,786.0" fill="#ffffff"/>
<polygon points="794.0,853.0 801.7,846.0 815.0,842.0 830.0,842.0 850.0,845.5 860.0,853.0 865.8,859.7 888.0,857.0 900.8,853.8 902.5,839.7 905.0,833.8 930.0,831.0 960.0,831.0 980.0,838.0 993.0,842.0 1021.7,839.7 1046.7,837.0 1075.0,835.5 1075.0,1016.0 1068.0,1013.0 1060.0,1004.7 1046.7,991.0 1035.0,978.0 1025.0,964.7 1020.0,951.0 1005.0,939.7 986.7,929.7 980.0,921.0 971.7,917.0 938.0,916.0 905.0,918.0 880.0,921.0 855.0,926.0 830.0,930.5 815.0,930.5 801.7,928.0 791.7,921.0 780.0,913.0 773.0,904.7 773.0,891.0 788.0,879.7 801.7,871.0" fill="#ffffff"/>
<polygon points="559.0,1169.0 586.8,1168.0 618.6,1163.6 650.0,1151.0 682.0,1136.6 704.5,1128.6 720.0,1127.0 739.5,1131.8 761.8,1136.6 793.6,1137.5 825.0,1131.8 857.0,1130.0 905.0,1131.8 952.7,1135.0 984.5,1133.0 1016.0,1131.0 1048.0,1133.0 1075.0,1131.8 1075.0,1202.0 559.0,1202.0" fill="#ffffff"/>
<polygon points="723.0,760.5 755.0,754.7 788.0,752.0 805.0,752.5 821.7,753.8 838.0,758.8 871.7,763.8 895.0,772.0 908.0,781.0 920.0,794.7 925.0,804.7 929.0,814.7 913.0,816.0 888.0,821.0 863.0,829.7 843.0,834.7 815.0,833.8 805.0,827.0 796.7,821.0 780.8,819.7 770.0,823.0 756.7,833.8 770.0,841.0 780.0,851.0 785.8,861.0 788.0,871.0 776.7,878.0 763.0,888.0 753.0,893.0 756.7,909.7 765.0,918.0 780.0,924.7 796.7,933.0 815.0,939.7 850.0,938.8 866.7,933.8 896.7,935.5 938.0,937.0 963.0,938.8 980.0,944.7 991.7,949.7 1001.7,968.0 1013.0,981.0 1030.0,1001.0 1043.0,1016.0 1056.7,1027.0 1050.0,1043.0 1041.7,1054.7 1030.0,1064.7 1021.7,1068.0 996.7,1069.7 971.7,1073.0 938.0,1078.0 913.0,1083.0 888.0,1093.0 863.0,1101.0 830.0,1110.0 805.0,1115.0 788.0,1117.0 768.0,1118.0 755.0,1114.7 738.0,1109.7 716.7,1111.0 705.0,1116.0 688.0,1124.7 676.0,1127.0 644.0,1138.0 612.0,1147.0 580.0,1147.0 559.0,1141.0 559.0,1004.7 561.0,1004.7 571.7,998.0 588.0,989.7 605.0,979.7 621.7,968.0 630.0,956.0 632.0,942.0 628.0,928.0 624.0,916.0 626.7,908.0 633.0,899.7 638.0,891.0 635.8,874.7 638.0,866.0 648.0,858.0 659.0,854.7 655.8,834.7 688.0,823.0 708.0,815.5 738.0,811.0 770.0,806.0 780.8,795.5 738.0,784.7 707.5,776.0" fill="#96d2fa"/>
<polygon points="975.8,814.7 996.7,811.0 1021.7,809.0 1046.7,810.0 1069.0,814.7 1055.0,819.7 1026.7,824.0 1005.0,821.0 988.0,818.0" fill="#96d2fa"/>
<polygon points="771.7,776.0 788.0,770.5 805.0,768.0 830.0,768.8 855.0,773.0 873.0,778.0 880.0,789.7 885.8,796.0 871.7,804.7 850.0,813.8 833.0,808.0 826.7,794.7 813.0,789.7 796.7,784.7" fill="#2882f0"/>
<polygon points="720.0,838.0 731.7,839.7 755.0,846.0 770.0,849.7 773.0,856.0 774.0,869.7 763.0,879.7 753.0,892.0 755.0,904.7 760.0,916.0 771.7,923.0 788.0,933.0 801.7,943.5 815.0,947.5 830.0,949.5 876.7,951.0 898.0,948.0 935.0,949.7 946.7,958.8 963.0,970.5 988.0,988.0 1006.7,1006.0 1007.5,1027.0 988.0,1033.8 963.0,1040.5 945.0,1044.7 921.7,1054.7 905.0,1064.7 880.0,1076.0 855.0,1086.0 830.0,1096.5 805.0,1103.0 788.0,1104.7 768.0,1103.8 755.0,1098.0 738.0,1091.0 721.7,1093.0 705.0,1100.5 688.0,1109.7 671.7,1118.0 655.0,1124.7 634.5,1131.8 602.7,1134.0 574.0,1128.6 559.0,1120.7 559.0,1013.8 561.0,1013.8 576.7,1004.7 596.7,991.0 613.0,983.0 626.7,973.0 640.0,961.0 645.0,948.0 641.7,936.0 638.5,928.0 643.0,914.7 655.0,904.7 671.7,896.0 683.0,889.7 685.8,873.0 705.0,854.7" fill="#2882f0"/>
<polygon points="736.7,893.8 743.0,904.7 755.0,916.0 771.7,927.0 788.0,938.0 796.7,951.0 805.0,957.0 821.7,964.0 846.7,976.0 871.7,989.7 885.0,993.8 905.0,997.0 930.0,1002.0 955.8,1008.0 946.7,1011.0 935.0,1021.0 921.7,1031.0 905.0,1044.7 888.0,1056.0 871.7,1066.0 851.7,1074.7 830.0,1084.2 815.0,1088.0 796.7,1091.0 780.0,1090.5 766.7,1084.7 760.0,1073.0 753.0,1060.5 736.7,1059.7 726.7,1066.0 718.0,1073.0 713.0,1083.0 705.0,1088.0 688.0,1098.0 671.7,1106.0 655.0,1113.0 638.0,1119.7 621.7,1123.8 605.0,1124.7 588.0,1120.5 576.7,1113.0 566.7,1103.0 559.0,1091.0 559.0,1024.7 561.0,1024.7 576.7,1013.8 596.7,1001.0 618.0,989.7 635.0,978.0 648.0,964.7 656.7,948.0 654.0,934.0 658.0,921.0 668.0,911.0 688.0,904.7 705.0,902.0 721.7,897.0" fill="#1464d2"/>
<polygon points="559.0,901.0 560.6,901.9 569.1,907.5 580.4,918.8 588.9,925.8 592.0,931.5 590.3,941.4 587.5,947.0 580.4,955.5 570.5,964.0 560.6,969.6 559.0,970.0" fill="#fffaaa"/>
<polygon points="559.0,918.8 566.3,919.5 571.9,925.8 576.2,930.1 576.2,934.3 571.9,944.2 569.1,949.8 560.6,955.5 559.0,956.0" fill="#ffc03c"/>
<polygon points="795.0,911.0 796.7,895.5 801.7,889.7 805.0,884.0 815.0,880.5 855.0,880.5 888.0,878.0 913.0,875.5 930.0,875.5 943.0,882.0 971.7,881.0 988.0,878.0 1010.0,864.7 1025.0,854.7 1046.7,848.8 1075.0,848.0 1075.0,985.5 1073.0,985.5 1068.0,979.7 1061.7,969.7 1055.0,956.0 1050.0,939.7 1045.0,929.7 1038.0,921.0 1021.7,913.0 1005.0,906.0 988.0,899.7 971.7,895.5 955.0,893.8 931.7,893.0 913.0,898.0 898.0,904.7 880.0,913.0 855.0,920.5 833.0,923.0 815.0,918.0 805.0,914.7" fill="#fffaaa"/>
<polygon points="809.0,912.0 810.0,899.7 813.0,889.7 821.7,887.0 855.0,885.5 888.0,885.5 905.0,889.7 913.0,893.8 898.0,901.0 880.0,909.7 860.0,916.0 846.7,918.8 826.7,916.0" fill="#ffc03c"/>
<polygon points="980.0,892.0 1005.0,879.7 1021.7,868.0 1038.0,857.0 1046.7,854.7 1075.0,854.7 1075.0,942.0 1073.0,942.0 1070.0,937.0 1065.0,930.0 1055.0,921.5 1038.0,914.7 1021.7,906.0 1005.0,901.0 988.0,895.5" fill="#ffc03c"/>
<polygon points="825.8,910.5 830.0,899.7 834.0,893.0 855.0,890.5 876.7,890.5 891.7,893.0 880.0,897.0 868.0,901.0 861.7,909.7 858.0,913.0 838.0,913.8" fill="#ffa000"/>
<polygon points="1004.0,892.0 1021.7,881.0 1038.0,869.7 1050.0,862.0 1075.0,859.7 1075.0,926.0 1073.0,926.0 1065.0,918.0 1055.0,909.0 1038.0,903.0 1021.7,898.0" fill="#ffa000"/>
<polygon points="1025.0,892.0 1038.0,883.0 1055.0,872.0 1065.0,868.0 1075.0,866.0 1075.0,909.0 1073.0,909.0 1055.0,901.0 1038.0,897.0" fill="#ff6000"/>
<polygon points="1041.7,892.0 1055.0,883.8 1065.0,878.0 1075.0,875.5 1075.0,901.0 1073.0,901.0 1055.0,895.5" fill="#e11400"/>
<polygon points="1065.0,892.0 1075.0,888.8 1075.0,894.7" fill="#a50000"/>
</g>
<g clip-path="url(#c2)"><use href="#coast" y="543"/></g>
<g fill="none" stroke="#000" stroke-width="2" shape-rendering="crispEdges"><rect x="560.3" y="195" width="513.7" height="462"/><rect x="560.3" y="737.7" width="513.7" height="462.5"/></g>
<path d="M521.3 229.2 L519.7 229.8 L519.2 231.0 L519.2 232.2 L519.7 233.3 L520.8 233.9 L522.9 234.5 L524.5 235.1 L525.5 236.3 L526.1 237.5 L526.1 239.2 L525.5 240.4 L525.0 241.0 L523.4 241.6 L521.3 241.6 L519.7 241.0 L519.2 240.4 L518.6 239.2 L518.6 237.5 L519.2 236.3 L520.2 235.1 L521.8 234.5 L523.9 233.9 L525.0 233.3 L525.5 232.2 L525.5 231.0 L525.0 229.8 L523.4 229.2 L521.3 229.2 M532.4 229.2 L530.8 229.8 L529.8 231.6 L529.2 234.5 L529.2 236.3 L529.8 239.2 L530.8 241.0 L532.4 241.6 L533.5 241.6 L535.1 241.0 L536.1 239.2 L536.7 236.3 L536.7 234.5 L536.1 231.6 L535.1 229.8 L533.5 229.2 L532.4 229.2 M540.4 229.2 L540.4 241.6 M540.4 229.2 L547.8 241.6 M547.8 229.2 L547.8 241.6" stroke="#000" stroke-width="1" fill="none" stroke-linecap="round" stroke-linejoin="round" shape-rendering="crispEdges"><title>80N</title></path>
<path d="M526.1 306.1 L520.8 318.5 M518.6 306.1 L526.1 306.1 M532.4 306.1 L530.8 306.7 L529.8 308.5 L529.2 311.4 L529.2 313.2 L529.8 316.2 L530.8 317.9 L532.4 318.5 L533.5 318.5 L535.1 317.9 L536.1 316.2 L536.7 313.2 L536.7 311.4 L536.1 308.5 L535.1 306.7 L533.5 306.1 L532.4 306.1 M540.4 306.1 L540.4 318.5 M540.4 306.1 L547.8 318.5 M547.8 306.1 L547.8 318.5" stroke="#000" stroke-width="1" fill="none" stroke-linecap="round" stroke-linejoin="round" shape-rendering="crispEdges"><title>70N</title></path>
<path d="M525.5 384.8 L525.0 383.6 L523.4 383.0 L522.4 383.0 L520.8 383.6 L519.7 385.4 L519.2 388.4 L519.2 391.3 L519.7 393.7 L520.8 394.8 L522.4 395.4 L522.9 395.4 L524.5 394.8 L525.5 393.7 L526.1 391.9 L526.1 391.3 L525.5 389.5 L524.5 388.4 L522.9 387.8 L522.4 387.8 L520.8 388.4 L519.7 389.5 L519.2 391.3 M532.4 383.0 L530.8 383.6 L529.8 385.4 L529.2 388.4 L529.2 390.1 L529.8 393.1 L530.8 394.8 L532.4 395.4 L533.5 395.4 L535.1 394.8 L536.1 393.1 L536.7 390.1 L536.7 388.4 L536.1 385.4 L535.1 383.6 L533.5 383.0 L532.4 383.0 M540.4 383.0 L540.4 395.4 M540.4 383.0 L547.8 395.4 M547.8 383.0 L547.8 395.4" stroke="#000" stroke-width="1" fill="none" stroke-linecap="round" stroke-linejoin="round" shape-rendering="crispEdges"><title>60N</title></path>
<path d="M525.0 460.0 L519.7 460.0 L519.2 465.3 L519.7 464.7 L521.3 464.1 L522.9 464.1 L524.5 464.7 L525.5 465.9 L526.1 467.6 L526.1 468.8 L525.5 470.6 L524.5 471.8 L522.9 472.4 L521.3 472.4 L519.7 471.8 L519.2 471.2 L518.6 470.0 M532.4 460.0 L530.8 460.6 L529.8 462.3 L529.2 465.3 L529.2 467.0 L529.8 470.0 L530.8 471.8 L532.4 472.4 L533.5 472.4 L535.1 471.8 L536.1 470.0 L536.7 467.0 L536.7 465.3 L536.1 462.3 L535.1 460.6 L533.5 460.0 L532.4 460.0 M540.4 460.0 L540.4 472.4 M540.4 460.0 L547.8 472.4 M547.8 460.0 L547.8 472.4" stroke="#000" stroke-width="1" fill="none" stroke-linecap="round" stroke-linejoin="round" shape-rendering="crispEdges"><title>50N</title></path>
<path d="M523.9 536.9 L518.6 545.1 L526.6 545.1 M523.9 536.9 L523.9 549.3 M532.4 536.9 L530.8 537.5 L529.8 539.2 L529.2 542.2 L529.2 544.0 L529.8 546.9 L530.8 548.7 L532.4 549.3 L533.5 549.3 L535.1 548.7 L536.1 546.9 L536.7 544.0 L536.7 542.2 L536.1 539.2 L535.1 537.5 L533.5 536.9 L532.4 536.9 M540.4 536.9 L540.4 549.3 M540.4 536.9 L547.8 549.3 M547.8 536.9 L547.8 549.3" stroke="#000" stroke-width="1" fill="none" stroke-linecap="round" stroke-linejoin="round" shape-rendering="crispEdges"><title>40N</title></path>
<path d="M519.7 613.8 L525.5 613.8 L522.4 618.5 L523.9 618.5 L525.0 619.1 L525.5 619.7 L526.1 621.5 L526.1 622.7 L525.5 624.4 L524.5 625.6 L522.9 626.2 L521.3 626.2 L519.7 625.6 L519.2 625.0 L518.6 623.8 M532.4 613.8 L530.8 614.4 L529.8 616.2 L529.2 619.1 L529.2 620.9 L529.8 623.8 L530.8 625.6 L532.4 626.2 L533.5 626.2 L535.1 625.6 L536.1 623.8 L536.7 620.9 L536.7 619.1 L536.1 616.2 L535.1 614.4 L533.5 613.8 L532.4 613.8 M540.4 613.8 L540.4 626.2 M540.4 613.8 L547.8 626.2 M547.8 613.8 L547.8 626.2" stroke="#000" stroke-width="1" fill="none" stroke-linecap="round" stroke-linejoin="round" shape-rendering="crispEdges"><title>30N</title></path>
<path d="M547.8 667.8 L546.2 668.4 L545.7 669.6 L545.7 670.8 L546.2 671.9 L547.3 672.5 L549.4 673.1 L551.0 673.7 L552.1 674.9 L552.6 676.1 L552.6 677.8 L552.1 679.0 L551.5 679.6 L549.9 680.2 L547.8 680.2 L546.2 679.6 L545.7 679.0 L545.2 677.8 L545.2 676.1 L545.7 674.9 L546.8 673.7 L548.3 673.1 L550.5 672.5 L551.5 671.9 L552.1 670.8 L552.1 669.6 L551.5 668.4 L549.9 667.8 L547.8 667.8 M558.9 667.8 L557.4 668.4 L556.3 670.2 L555.8 673.1 L555.8 674.9 L556.3 677.8 L557.4 679.6 L558.9 680.2 L560.0 680.2 L561.6 679.6 L562.7 677.8 L563.2 674.9 L563.2 673.1 L562.7 670.2 L561.6 668.4 L560.0 667.8 L558.9 667.8 M565.8 667.8 L568.5 680.2 M571.1 667.8 L568.5 680.2 M571.1 667.8 L573.8 680.2 M576.4 667.8 L573.8 680.2" stroke="#000" stroke-width="1" fill="none" stroke-linecap="round" stroke-linejoin="round" shape-rendering="crispEdges"><title>80W</title></path>
<path d="M680.8 669.6 L680.3 668.4 L678.7 667.8 L677.6 667.8 L676.0 668.4 L675.0 670.2 L674.4 673.1 L674.4 676.1 L675.0 678.4 L676.0 679.6 L677.6 680.2 L678.1 680.2 L679.7 679.6 L680.8 678.4 L681.3 676.7 L681.3 676.1 L680.8 674.3 L679.7 673.1 L678.1 672.5 L677.6 672.5 L676.0 673.1 L675.0 674.3 L674.4 676.1 M687.7 667.8 L686.1 668.4 L685.0 670.2 L684.5 673.1 L684.5 674.9 L685.0 677.8 L686.1 679.6 L687.7 680.2 L688.7 680.2 L690.3 679.6 L691.4 677.8 L691.9 674.9 L691.9 673.1 L691.4 670.2 L690.3 668.4 L688.7 667.8 L687.7 667.8 M694.6 667.8 L697.2 680.2 M699.9 667.8 L697.2 680.2 M699.9 667.8 L702.5 680.2 M705.2 667.8 L702.5 680.2" stroke="#000" stroke-width="1" fill="none" stroke-linecap="round" stroke-linejoin="round" shape-rendering="crispEdges"><title>60W</title></path>
<path d="M807.5 667.8 L802.2 676.1 L810.1 676.1 M807.5 667.8 L807.5 680.2 M815.9 667.8 L814.4 668.4 L813.3 670.2 L812.8 673.1 L812.8 674.9 L813.3 677.8 L814.4 679.6 L815.9 680.2 L817.0 680.2 L818.6 679.6 L819.7 677.8 L820.2 674.9 L820.2 673.1 L819.7 670.2 L818.6 668.4 L817.0 667.8 L815.9 667.8 M822.8 667.8 L825.5 680.2 M828.1 667.8 L825.5 680.2 M828.1 667.8 L830.8 680.2 M833.4 667.8 L830.8 680.2" stroke="#000" stroke-width="1" fill="none" stroke-linecap="round" stroke-linejoin="round" shape-rendering="crispEdges"><title>40W</title></path>
<path d="M930.7 670.8 L930.7 670.2 L931.2 669.0 L931.8 668.4 L932.8 667.8 L934.9 667.8 L936.0 668.4 L936.5 669.0 L937.1 670.2 L937.1 671.3 L936.5 672.5 L935.5 674.3 L930.2 680.2 L937.6 680.2 M943.9 667.8 L942.4 668.4 L941.3 670.2 L940.8 673.1 L940.8 674.9 L941.3 677.8 L942.4 679.6 L943.9 680.2 L945.0 680.2 L946.6 679.6 L947.7 677.8 L948.2 674.9 L948.2 673.1 L947.7 670.2 L946.6 668.4 L945.0 667.8 L943.9 667.8 M950.8 667.8 L953.5 680.2 M956.1 667.8 L953.5 680.2 M956.1 667.8 L958.8 680.2 M961.4 667.8 L958.8 680.2" stroke="#000" stroke-width="1" fill="none" stroke-linecap="round" stroke-linejoin="round" shape-rendering="crispEdges"><title>20W</title></path>
<path d="M1074.3 667.8 L1072.7 668.4 L1071.6 670.2 L1071.1 673.1 L1071.1 674.9 L1071.6 677.8 L1072.7 679.6 L1074.3 680.2 L1075.3 680.2 L1076.9 679.6 L1078.0 677.8 L1078.5 674.9 L1078.5 673.1 L1078.0 670.2 L1076.9 668.4 L1075.3 667.8 L1074.3 667.8" stroke="#000" stroke-width="1" fill="none" stroke-linecap="round" stroke-linejoin="round" shape-rendering="crispEdges"><title>0</title></path>
<path d="M521.3 772.2 L519.7 772.8 L519.2 774.0 L519.2 775.2 L519.7 776.3 L520.8 776.9 L522.9 777.5 L524.5 778.1 L525.5 779.3 L526.1 780.5 L526.1 782.2 L525.5 783.4 L525.0 784.0 L523.4 784.6 L521.3 784.6 L519.7 784.0 L519.2 783.4 L518.6 782.2 L518.6 780.5 L519.2 779.3 L520.2 778.1 L521.8 777.5 L523.9 776.9 L525.0 776.3 L525.5 775.2 L525.5 774.0 L525.0 772.8 L523.4 772.2 L521.3 772.2 M532.4 772.2 L530.8 772.8 L529.8 774.6 L529.2 777.5 L529.2 779.3 L529.8 782.2 L530.8 784.0 L532.4 784.6 L533.5 784.6 L535.1 784.0 L536.1 782.2 L536.7 779.3 L536.7 777.5 L536.1 774.6 L535.1 772.8 L533.5 772.2 L532.4 772.2 M540.4 772.2 L540.4 784.6 M540.4 772.2 L547.8 784.6 M547.8 772.2 L547.8 784.6" stroke="#000" stroke-width="1" fill="none" stroke-linecap="round" stroke-linejoin="round" shape-rendering="crispEdges"><title>80N</title></path>
<path d="M526.1 849.1 L520.8 861.5 M518.6 849.1 L526.1 849.1 M532.4 849.1 L530.8 849.7 L529.8 851.5 L529.2 854.4 L529.2 856.2 L529.8 859.2 L530.8 860.9 L532.4 861.5 L533.5 861.5 L535.1 860.9 L536.1 859.2 L536.7 856.2 L536.7 854.4 L536.1 851.5 L535.1 849.7 L533.5 849.1 L532.4 849.1 M540.4 849.1 L540.4 861.5 M540.4 849.1 L547.8 861.5 M547.8 849.1 L547.8 861.5" stroke="#000" stroke-width="1" fill="none" stroke-linecap="round" stroke-linejoin="round" shape-rendering="crispEdges"><title>70N</title></path>
<path d="M525.5 927.8 L525.0 926.6 L523.4 926.0 L522.4 926.0 L520.8 926.6 L519.7 928.4 L519.2 931.4 L519.2 934.3 L519.7 936.7 L520.8 937.8 L522.4 938.4 L522.9 938.4 L524.5 937.8 L525.5 936.7 L526.1 934.9 L526.1 934.3 L525.5 932.5 L524.5 931.4 L522.9 930.8 L522.4 930.8 L520.8 931.4 L519.7 932.5 L519.2 934.3 M532.4 926.0 L530.8 926.6 L529.8 928.4 L529.2 931.4 L529.2 933.1 L529.8 936.1 L530.8 937.8 L532.4 938.4 L533.5 938.4 L535.1 937.8 L536.1 936.1 L536.7 933.1 L536.7 931.4 L536.1 928.4 L535.1 926.6 L533.5 926.0 L532.4 926.0 M540.4 926.0 L540.4 938.4 M540.4 926.0 L547.8 938.4 M547.8 926.0 L547.8 938.4" stroke="#000" stroke-width="1" fill="none" stroke-linecap="round" stroke-linejoin="round" shape-rendering="crispEdges"><title>60N</title></path>
<path d="M525.0 1003.0 L519.7 1003.0 L519.2 1008.3 L519.7 1007.7 L521.3 1007.1 L522.9 1007.1 L524.5 1007.7 L525.5 1008.9 L526.1 1010.6 L526.1 1011.8 L525.5 1013.6 L524.5 1014.8 L522.9 1015.4 L521.3 1015.4 L519.7 1014.8 L519.2 1014.2 L518.6 1013.0 M532.4 1003.0 L530.8 1003.6 L529.8 1005.3 L529.2 1008.3 L529.2 1010.0 L529.8 1013.0 L530.8 1014.8 L532.4 1015.4 L533.5 1015.4 L535.1 1014.8 L536.1 1013.0 L536.7 1010.0 L536.7 1008.3 L536.1 1005.3 L535.1 1003.6 L533.5 1003.0 L532.4 1003.0 M540.4 1003.0 L540.4 1015.4 M540.4 1003.0 L547.8 1015.4 M547.8 1003.0 L547.8 1015.4" stroke="#000" stroke-width="1" fill="none" stroke-linecap="round" stroke-linejoin="round" shape-rendering="crispEdges"><title>50N</title></path>
<path d="M523.9 1079.9 L518.6 1088.1 L526.6 1088.1 M523.9 1079.9 L523.9 1092.3 M532.4 1079.9 L530.8 1080.5 L529.8 1082.2 L529.2 1085.2 L529.2 1087.0 L529.8 1089.9 L530.8 1091.7 L532.4 1092.3 L533.5 1092.3 L535.1 1091.7 L536.1 1089.9 L536.7 1087.0 L536.7 1085.2 L536.1 1082.2 L535.1 1080.5 L533.5 1079.9 L532.4 1079.9 M540.4 1079.9 L540.4 1092.3 M540.4 1079.9 L547.8 1092.3 M547.8 1079.9 L547.8 1092.3" stroke="#000" stroke-width="1" fill="none" stroke-linecap="round" stroke-linejoin="round" shape-rendering="crispEdges"><title>40N</title></path>
<path d="M519.7 1156.8 L525.5 1156.8 L522.4 1161.5 L523.9 1161.5 L525.0 1162.1 L525.5 1162.7 L526.1 1164.5 L526.1 1165.7 L525.5 1167.4 L524.5 1168.6 L522.9 1169.2 L521.3 1169.2 L519.7 1168.6 L519.2 1168.0 L518.6 1166.8 M532.4 1156.8 L530.8 1157.4 L529.8 1159.2 L529.2 1162.1 L529.2 1163.9 L529.8 1166.8 L530.8 1168.6 L532.4 1169.2 L533.5 1169.2 L535.1 1168.6 L536.1 1166.8 L536.7 1163.9 L536.7 1162.1 L536.1 1159.2 L535.1 1157.4 L533.5 1156.8 L532.4 1156.8 M540.4 1156.8 L540.4 1169.2 M540.4 1156.8 L547.8 1169.2 M547.8 1156.8 L547.8 1169.2" stroke="#000" stroke-width="1" fill="none" stroke-linecap="round" stroke-linejoin="round" shape-rendering="crispEdges"><title>30N</title></path>
<path d="M547.8 1210.8 L546.2 1211.4 L545.7 1212.6 L545.7 1213.8 L546.2 1214.9 L547.3 1215.5 L549.4 1216.1 L551.0 1216.7 L552.1 1217.9 L552.6 1219.1 L552.6 1220.8 L552.1 1222.0 L551.5 1222.6 L549.9 1223.2 L547.8 1223.2 L546.2 1222.6 L545.7 1222.0 L545.2 1220.8 L545.2 1219.1 L545.7 1217.9 L546.8 1216.7 L548.3 1216.1 L550.5 1215.5 L551.5 1214.9 L552.1 1213.8 L552.1 1212.6 L551.5 1211.4 L549.9 1210.8 L547.8 1210.8 M558.9 1210.8 L557.4 1211.4 L556.3 1213.2 L555.8 1216.1 L555.8 1217.9 L556.3 1220.8 L557.4 1222.6 L558.9 1223.2 L560.0 1223.2 L561.6 1222.6 L562.7 1220.8 L563.2 1217.9 L563.2 1216.1 L562.7 1213.2 L561.6 1211.4 L560.0 1210.8 L558.9 1210.8 M565.8 1210.8 L568.5 1223.2 M571.1 1210.8 L568.5 1223.2 M571.1 1210.8 L573.8 1223.2 M576.4 1210.8 L573.8 1223.2" stroke="#000" stroke-width="1" fill="none" stroke-linecap="round" stroke-linejoin="round" shape-rendering="crispEdges"><title>80W</title></path>
<path d="M680.8 1212.6 L680.3 1211.4 L678.7 1210.8 L677.6 1210.8 L676.0 1211.4 L675.0 1213.2 L674.4 1216.1 L674.4 1219.1 L675.0 1221.4 L676.0 1222.6 L677.6 1223.2 L678.1 1223.2 L679.7 1222.6 L680.8 1221.4 L681.3 1219.7 L681.3 1219.1 L680.8 1217.3 L679.7 1216.1 L678.1 1215.5 L677.6 1215.5 L676.0 1216.1 L675.0 1217.3 L674.4 1219.1 M687.7 1210.8 L686.1 1211.4 L685.0 1213.2 L684.5 1216.1 L684.5 1217.9 L685.0 1220.8 L686.1 1222.6 L687.7 1223.2 L688.7 1223.2 L690.3 1222.6 L691.4 1220.8 L691.9 1217.9 L691.9 1216.1 L691.4 1213.2 L690.3 1211.4 L688.7 1210.8 L687.7 1210.8 M694.6 1210.8 L697.2 1223.2 M699.9 1210.8 L697.2 1223.2 M699.9 1210.8 L702.5 1223.2 M705.2 1210.8 L702.5 1223.2" stroke="#000" stroke-width="1" fill="none" stroke-linecap="round" stroke-linejoin="round" shape-rendering="crispEdges"><title>60W</title></path>
<path d="M807.5 1210.8 L802.2 1219.1 L810.1 1219.1 M807.5 1210.8 L807.5 1223.2 M815.9 1210.8 L814.4 1211.4 L813.3 1213.2 L812.8 1216.1 L812.8 1217.9 L813.3 1220.8 L814.4 1222.6 L815.9 1223.2 L817.0 1223.2 L818.6 1222.6 L819.7 1220.8 L820.2 1217.9 L820.2 1216.1 L819.7 1213.2 L818.6 1211.4 L817.0 1210.8 L815.9 1210.8 M822.8 1210.8 L825.5 1223.2 M828.1 1210.8 L825.5 1223.2 M828.1 1210.8 L830.8 1223.2 M833.4 1210.8 L830.8 1223.2" stroke="#000" stroke-width="1" fill="none" stroke-linecap="round" stroke-linejoin="round" shape-rendering="crispEdges"><title>40W</title></path>
<path d="M930.7 1213.8 L930.7 1213.2 L931.2 1212.0 L931.8 1211.4 L932.8 1210.8 L934.9 1210.8 L936.0 1211.4 L936.5 1212.0 L937.1 1213.2 L937.1 1214.3 L936.5 1215.5 L935.5 1217.3 L930.2 1223.2 L937.6 1223.2 M943.9 1210.8 L942.4 1211.4 L941.3 1213.2 L940.8 1216.1 L940.8 1217.9 L941.3 1220.8 L942.4 1222.6 L943.9 1223.2 L945.0 1223.2 L946.6 1222.6 L947.7 1220.8 L948.2 1217.9 L948.2 1216.1 L947.7 1213.2 L946.6 1211.4 L945.0 1210.8 L943.9 1210.8 M950.8 1210.8 L953.5 1223.2 M956.1 1210.8 L953.5 1223.2 M956.1 1210.8 L958.8 1223.2 M961.4 1210.8 L958.8 1223.2" stroke="#000" stroke-width="1" fill="none" stroke-linecap="round" stroke-linejoin="round" shape-rendering="crispEdges"><title>20W</title></path>
<path d="M1074.3 1210.8 L1072.7 1211.4 L1071.6 1213.2 L1071.1 1216.1 L1071.1 1217.9 L1071.6 1220.8 L1072.7 1222.6 L1074.3 1223.2 L1075.3 1223.2 L1076.9 1222.6 L1078.0 1220.8 L1078.5 1217.9 L1078.5 1216.1 L1078.0 1213.2 L1076.9 1211.4 L1075.3 1210.8 L1074.3 1210.8" stroke="#000" stroke-width="1" fill="none" stroke-linecap="round" stroke-linejoin="round" shape-rendering="crispEdges"><title>0</title></path>
<path d="M555 234.5 H560 M555 311.4 H560 M555 388.3 H560 M555 465.3 H560 M555 542.2 H560 M555 619.1 H560 M560.5 657.0 V663.5 M689.5 657.0 V663.5 M817.5 657.0 V663.5 M945.5 657.0 V663.5 M1074.5 657.0 V663.5 M555 777.5 H560 M555 854.4 H560 M555 931.3 H560 M555 1008.3 H560 M555 1085.2 H560 M555 1162.1 H560 M560.5 1200.0 V1206.5 M689.5 1200.0 V1206.5 M817.5 1200.0 V1206.5 M945.5 1200.0 V1206.5 M1074.5 1200.0 V1206.5" stroke="#000" stroke-width="1" fill="none" shape-rendering="crispEdges"/>
<g shape-rendering="crispEdges">
<polygon points="1132.0,308 1148.0,308 1139.7,267" fill="#ffe1e1"/>
<rect x="1132.0" y="308" width="16.0" height="39.60000000000002" fill="#f0a0a0"/>
<rect x="1132.0" y="347.6" width="16.0" height="39.69999999999999" fill="#a50000"/>
<rect x="1132.0" y="387.3" width="16.0" height="39.69999999999999" fill="#e11400"/>
<rect x="1132.0" y="427" width="16.0" height="39.5" fill="#ff6000"/>
<rect x="1132.0" y="466.5" width="16.0" height="39.69999999999999" fill="#ffa000"/>
<rect x="1132.0" y="506.2" width="16.0" height="39.80000000000001" fill="#ffe878"/>
</g>
<path d="M1131.5 308 V546 M1131.0 347.6 H1148.0 M1131.0 387.3 H1148.0 M1131.0 466.5 H1148.0 M1131.0 506.2 H1148.0 M1131.0 546 H1148.0 M1131.5 546 L1139.7 585.5" stroke="#000" stroke-width="1" fill="none" shape-rendering="crispEdges"/>
<path d="M1131.5 308 L1139.7 267" stroke="#000" stroke-width="1" stroke-dasharray="3 2.5" fill="none"/>
<path d="M1153.7 305.2 L1153.7 304.7 L1154.2 303.8 L1154.7 303.4 L1155.7 302.9 L1157.6 302.9 L1158.6 303.4 L1159.1 303.8 L1159.6 304.7 L1159.6 305.6 L1159.1 306.6 L1158.1 307.9 L1153.3 312.5 L1160.0 312.5 M1163.4 305.2 L1163.4 304.7 L1163.9 303.8 L1164.4 303.4 L1165.4 302.9 L1167.3 302.9 L1168.3 303.4 L1168.8 303.8 L1169.3 304.7 L1169.3 305.6 L1168.8 306.6 L1167.8 307.9 L1163.0 312.5 L1169.7 312.5 M1175.6 302.9 L1174.1 303.4 L1173.1 304.7 L1172.7 307.0 L1172.7 308.4 L1173.1 310.7 L1174.1 312.0 L1175.6 312.5 L1176.5 312.5 L1178.0 312.0 L1179.0 310.7 L1179.4 308.4 L1179.4 307.0 L1179.0 304.7 L1178.0 303.4 L1176.5 302.9 L1175.6 302.9" stroke="#000" stroke-width="1" fill="none" stroke-linecap="round" stroke-linejoin="round" shape-rendering="crispEdges"><title>220</title></path>
<path d="M1154.7 344.3 L1155.7 343.9 L1157.1 342.5 L1157.1 352.1 M1169.3 345.7 L1168.8 347.1 L1167.8 348.0 L1166.3 348.4 L1165.9 348.4 L1164.4 348.0 L1163.4 347.1 L1163.0 345.7 L1163.0 345.2 L1163.4 343.9 L1164.4 343.0 L1165.9 342.5 L1166.3 342.5 L1167.8 343.0 L1168.8 343.9 L1169.3 345.7 L1169.3 348.0 L1168.8 350.3 L1167.8 351.6 L1166.3 352.1 L1165.4 352.1 L1163.9 351.6 L1163.4 350.7 M1175.6 342.5 L1174.1 343.0 L1173.1 344.3 L1172.7 346.6 L1172.7 348.0 L1173.1 350.3 L1174.1 351.6 L1175.6 352.1 L1176.5 352.1 L1178.0 351.6 L1179.0 350.3 L1179.4 348.0 L1179.4 346.6 L1179.0 344.3 L1178.0 343.0 L1176.5 342.5 L1175.6 342.5" stroke="#000" stroke-width="1" fill="none" stroke-linecap="round" stroke-linejoin="round" shape-rendering="crispEdges"><title>190</title></path>
<path d="M1154.7 384.0 L1155.7 383.6 L1157.1 382.2 L1157.1 391.8 M1169.3 383.6 L1168.8 382.7 L1167.3 382.2 L1166.3 382.2 L1164.9 382.7 L1163.9 384.0 L1163.4 386.3 L1163.4 388.6 L1163.9 390.4 L1164.9 391.3 L1166.3 391.8 L1166.8 391.8 L1168.3 391.3 L1169.3 390.4 L1169.7 389.1 L1169.7 388.6 L1169.3 387.2 L1168.3 386.3 L1166.8 385.9 L1166.3 385.9 L1164.9 386.3 L1163.9 387.2 L1163.4 388.6 M1175.6 382.2 L1174.1 382.7 L1173.1 384.0 L1172.7 386.3 L1172.7 387.7 L1173.1 390.0 L1174.1 391.3 L1175.6 391.8 L1176.5 391.8 L1178.0 391.3 L1179.0 390.0 L1179.4 387.7 L1179.4 386.3 L1179.0 384.0 L1178.0 382.7 L1176.5 382.2 L1175.6 382.2" stroke="#000" stroke-width="1" fill="none" stroke-linecap="round" stroke-linejoin="round" shape-rendering="crispEdges"><title>160</title></path>
<path d="M1154.7 423.7 L1155.7 423.3 L1157.1 421.9 L1157.1 431.5 M1163.9 421.9 L1169.3 421.9 L1166.3 425.6 L1167.8 425.6 L1168.8 426.0 L1169.3 426.5 L1169.7 427.8 L1169.7 428.8 L1169.3 430.1 L1168.3 431.0 L1166.8 431.5 L1165.4 431.5 L1163.9 431.0 L1163.4 430.6 L1163.0 429.7 M1175.6 421.9 L1174.1 422.4 L1173.1 423.7 L1172.7 426.0 L1172.7 427.4 L1173.1 429.7 L1174.1 431.0 L1175.6 431.5 L1176.5 431.5 L1178.0 431.0 L1179.0 429.7 L1179.4 427.4 L1179.4 426.0 L1179.0 423.7 L1178.0 422.4 L1176.5 421.9 L1175.6 421.9" stroke="#000" stroke-width="1" fill="none" stroke-linecap="round" stroke-linejoin="round" shape-rendering="crispEdges"><title>130</title></path>
<path d="M1154.7 463.2 L1155.7 462.8 L1157.1 461.4 L1157.1 471.0 M1165.9 461.4 L1164.4 461.9 L1163.4 463.2 L1163.0 465.5 L1163.0 466.9 L1163.4 469.2 L1164.4 470.5 L1165.9 471.0 L1166.8 471.0 L1168.3 470.5 L1169.3 469.2 L1169.7 466.9 L1169.7 465.5 L1169.3 463.2 L1168.3 461.9 L1166.8 461.4 L1165.9 461.4 M1175.6 461.4 L1174.1 461.9 L1173.1 463.2 L1172.7 465.5 L1172.7 466.9 L1173.1 469.2 L1174.1 470.5 L1175.6 471.0 L1176.5 471.0 L1178.0 470.5 L1179.0 469.2 L1179.4 466.9 L1179.4 465.5 L1179.0 463.2 L1178.0 461.9 L1176.5 461.4 L1175.6 461.4" stroke="#000" stroke-width="1" fill="none" stroke-linecap="round" stroke-linejoin="round" shape-rendering="crispEdges"><title>100</title></path>
<path d="M1160.0 501.1 L1155.2 510.7 M1153.3 501.1 L1160.0 501.1 M1165.9 501.1 L1164.4 501.6 L1163.4 502.9 L1163.0 505.2 L1163.0 506.6 L1163.4 508.9 L1164.4 510.2 L1165.9 510.7 L1166.8 510.7 L1168.3 510.2 L1169.3 508.9 L1169.7 506.6 L1169.7 505.2 L1169.3 502.9 L1168.3 501.6 L1166.8 501.1 L1165.9 501.1" stroke="#000" stroke-width="1" fill="none" stroke-linecap="round" stroke-linejoin="round" shape-rendering="crispEdges"><title>70</title></path>
<path d="M1158.1 540.9 L1153.3 547.3 L1160.5 547.3 M1158.1 540.9 L1158.1 550.5 M1165.9 540.9 L1164.4 541.4 L1163.4 542.7 L1163.0 545.0 L1163.0 546.4 L1163.4 548.7 L1164.4 550.0 L1165.9 550.5 L1166.8 550.5 L1168.3 550.0 L1169.3 548.7 L1169.7 546.4 L1169.7 545.0 L1169.3 542.7 L1168.3 541.4 L1166.8 540.9 L1165.9 540.9" stroke="#000" stroke-width="1" fill="none" stroke-linecap="round" stroke-linejoin="round" shape-rendering="crispEdges"><title>40</title></path>
<g shape-rendering="crispEdges">
<polygon points="1132.0,791.3 1148.0,791.3 1140,751.5" fill="#a50000"/>
<polygon points="1132.0,1148.3 1148.0,1148.3 1139.8,1188.5" fill="#1464d2"/>
<rect x="1132.0" y="790.8" width="16.0" height="39.90000000000009" fill="#e11400"/>
<rect x="1132.0" y="830.7" width="16.0" height="39.59999999999991" fill="#ff6000"/>
<rect x="1132.0" y="870.3" width="16.0" height="40.10000000000002" fill="#ffa000"/>
<rect x="1132.0" y="910.4" width="16.0" height="39.89999999999998" fill="#ffc03c"/>
<rect x="1132.0" y="950.3" width="16.0" height="39.200000000000045" fill="#fffaaa"/>
<rect x="1132.0" y="989.5" width="16.0" height="40.09999999999991" fill="#ffffff"/>
<rect x="1132.0" y="1029.6" width="16.0" height="39.600000000000136" fill="#e1ffff"/>
<rect x="1132.0" y="1069.2" width="16.0" height="40.09999999999991" fill="#96d2fa"/>
<rect x="1132.0" y="1109.3" width="16.0" height="39.0" fill="#2882f0"/>
</g>
<path d="M1131.5 790.8 V1148.3 M1131.0 830.7 H1148.0 M1131.0 870.3 H1148.0 M1131.0 910.4 H1148.0 M1131.0 950.3 H1148.0 M1131.0 989.5 H1148.0 M1131.0 1029.6 H1148.0 M1131.0 1069.2 H1148.0 M1131.0 1148.3 H1148.0 M1131.5 790.8 L1140 751.5 L1148.0 790.8 M1131.5 1148.3 L1139.8 1188.5 L1148.0 1148.3" stroke="#000" stroke-width="1" fill="none" shape-rendering="crispEdges"/>
<path d="M1159.6 787.1 L1159.1 786.2 L1157.6 785.7 L1156.6 785.7 L1155.2 786.2 L1154.2 787.5 L1153.7 789.8 L1153.7 792.1 L1154.2 793.9 L1155.2 794.8 L1156.6 795.3 L1157.1 795.3 L1158.6 794.8 L1159.6 793.9 L1160.0 792.6 L1160.0 792.1 L1159.6 790.7 L1158.6 789.8 L1157.1 789.4 L1156.6 789.4 L1155.2 789.8 L1154.2 790.7 L1153.7 792.1 M1165.9 785.7 L1164.4 786.2 L1163.4 787.5 L1163.0 789.8 L1163.0 791.2 L1163.4 793.5 L1164.4 794.8 L1165.9 795.3 L1166.8 795.3 L1168.3 794.8 L1169.3 793.5 L1169.7 791.2 L1169.7 789.8 L1169.3 787.5 L1168.3 786.2 L1166.8 785.7 L1165.9 785.7" stroke="#000" stroke-width="1" fill="none" stroke-linecap="round" stroke-linejoin="round" shape-rendering="crispEdges"><title>60</title></path>
<path d="M1159.1 825.6 L1154.2 825.6 L1153.7 829.7 L1154.2 829.3 L1155.7 828.8 L1157.1 828.8 L1158.6 829.3 L1159.6 830.2 L1160.0 831.5 L1160.0 832.5 L1159.6 833.8 L1158.6 834.7 L1157.1 835.2 L1155.7 835.2 L1154.2 834.7 L1153.7 834.3 L1153.3 833.4 M1165.9 825.6 L1164.4 826.1 L1163.4 827.4 L1163.0 829.7 L1163.0 831.1 L1163.4 833.4 L1164.4 834.7 L1165.9 835.2 L1166.8 835.2 L1168.3 834.7 L1169.3 833.4 L1169.7 831.1 L1169.7 829.7 L1169.3 827.4 L1168.3 826.1 L1166.8 825.6 L1165.9 825.6" stroke="#000" stroke-width="1" fill="none" stroke-linecap="round" stroke-linejoin="round" shape-rendering="crispEdges"><title>50</title></path>
<path d="M1158.1 865.2 L1153.3 871.6 L1160.5 871.6 M1158.1 865.2 L1158.1 874.8 M1165.9 865.2 L1164.4 865.7 L1163.4 867.0 L1163.0 869.3 L1163.0 870.7 L1163.4 873.0 L1164.4 874.3 L1165.9 874.8 L1166.8 874.8 L1168.3 874.3 L1169.3 873.0 L1169.7 870.7 L1169.7 869.3 L1169.3 867.0 L1168.3 865.7 L1166.8 865.2 L1165.9 865.2" stroke="#000" stroke-width="1" fill="none" stroke-linecap="round" stroke-linejoin="round" shape-rendering="crispEdges"><title>40</title></path>
<path d="M1154.2 905.3 L1159.6 905.3 L1156.6 909.0 L1158.1 909.0 L1159.1 909.4 L1159.6 909.9 L1160.0 911.2 L1160.0 912.2 L1159.6 913.5 L1158.6 914.4 L1157.1 914.9 L1155.7 914.9 L1154.2 914.4 L1153.7 914.0 L1153.3 913.1 M1165.9 905.3 L1164.4 905.8 L1163.4 907.1 L1163.0 909.4 L1163.0 910.8 L1163.4 913.1 L1164.4 914.4 L1165.9 914.9 L1166.8 914.9 L1168.3 914.4 L1169.3 913.1 L1169.7 910.8 L1169.7 909.4 L1169.3 907.1 L1168.3 905.8 L1166.8 905.3 L1165.9 905.3" stroke="#000" stroke-width="1" fill="none" stroke-linecap="round" stroke-linejoin="round" shape-rendering="crispEdges"><title>30</title></path>
<path d="M1153.7 947.5 L1153.7 947.0 L1154.2 946.1 L1154.7 945.7 L1155.7 945.2 L1157.6 945.2 L1158.6 945.7 L1159.1 946.1 L1159.6 947.0 L1159.6 947.9 L1159.1 948.9 L1158.1 950.2 L1153.3 954.8 L1160.0 954.8 M1165.9 945.2 L1164.4 945.7 L1163.4 947.0 L1163.0 949.3 L1163.0 950.7 L1163.4 953.0 L1164.4 954.3 L1165.9 954.8 L1166.8 954.8 L1168.3 954.3 L1169.3 953.0 L1169.7 950.7 L1169.7 949.3 L1169.3 947.0 L1168.3 945.7 L1166.8 945.2 L1165.9 945.2" stroke="#000" stroke-width="1" fill="none" stroke-linecap="round" stroke-linejoin="round" shape-rendering="crispEdges"><title>20</title></path>
<path d="M1154.7 986.2 L1155.7 985.8 L1157.1 984.4 L1157.1 994.0 M1165.9 984.4 L1164.4 984.9 L1163.4 986.2 L1163.0 988.5 L1163.0 989.9 L1163.4 992.2 L1164.4 993.5 L1165.9 994.0 L1166.8 994.0 L1168.3 993.5 L1169.3 992.2 L1169.7 989.9 L1169.7 988.5 L1169.3 986.2 L1168.3 984.9 L1166.8 984.4 L1165.9 984.4" stroke="#000" stroke-width="1" fill="none" stroke-linecap="round" stroke-linejoin="round" shape-rendering="crispEdges"><title>10</title></path>
<path d="M1153.7 1030.0 L1162.5 1030.0 M1167.3 1026.3 L1168.3 1025.9 L1169.7 1024.5 L1169.7 1034.1 M1178.5 1024.5 L1177.0 1025.0 L1176.0 1026.3 L1175.6 1028.6 L1175.6 1030.0 L1176.0 1032.3 L1177.0 1033.6 L1178.5 1034.1 L1179.4 1034.1 L1180.9 1033.6 L1181.9 1032.3 L1182.4 1030.0 L1182.4 1028.6 L1181.9 1026.3 L1180.9 1025.0 L1179.4 1024.5 L1178.5 1024.5" stroke="#000" stroke-width="1" fill="none" stroke-linecap="round" stroke-linejoin="round" shape-rendering="crispEdges"><title>-10</title></path>
<path d="M1153.7 1069.6 L1162.5 1069.6 M1166.3 1066.4 L1166.3 1065.9 L1166.8 1065.0 L1167.3 1064.6 L1168.3 1064.1 L1170.2 1064.1 L1171.2 1064.6 L1171.7 1065.0 L1172.2 1065.9 L1172.2 1066.8 L1171.7 1067.8 L1170.7 1069.1 L1165.9 1073.7 L1172.7 1073.7 M1178.5 1064.1 L1177.0 1064.6 L1176.0 1065.9 L1175.6 1068.2 L1175.6 1069.6 L1176.0 1071.9 L1177.0 1073.2 L1178.5 1073.7 L1179.4 1073.7 L1180.9 1073.2 L1181.9 1071.9 L1182.4 1069.6 L1182.4 1068.2 L1181.9 1065.9 L1180.9 1064.6 L1179.4 1064.1 L1178.5 1064.1" stroke="#000" stroke-width="1" fill="none" stroke-linecap="round" stroke-linejoin="round" shape-rendering="crispEdges"><title>-20</title></path>
<path d="M1153.7 1109.7 L1162.5 1109.7 M1166.8 1104.2 L1172.2 1104.2 L1169.3 1107.9 L1170.7 1107.9 L1171.7 1108.3 L1172.2 1108.8 L1172.7 1110.1 L1172.7 1111.1 L1172.2 1112.4 L1171.2 1113.3 L1169.7 1113.8 L1168.3 1113.8 L1166.8 1113.3 L1166.3 1112.9 L1165.9 1112.0 M1178.5 1104.2 L1177.0 1104.7 L1176.0 1106.0 L1175.6 1108.3 L1175.6 1109.7 L1176.0 1112.0 L1177.0 1113.3 L1178.5 1113.8 L1179.4 1113.8 L1180.9 1113.3 L1181.9 1112.0 L1182.4 1109.7 L1182.4 1108.3 L1181.9 1106.0 L1180.9 1104.7 L1179.4 1104.2 L1178.5 1104.2" stroke="#000" stroke-width="1" fill="none" stroke-linecap="round" stroke-linejoin="round" shape-rendering="crispEdges"><title>-30</title></path>
<path d="M1153.7 1148.7 L1162.5 1148.7 M1170.7 1143.2 L1165.9 1149.6 L1173.1 1149.6 M1170.7 1143.2 L1170.7 1152.8 M1178.5 1143.2 L1177.0 1143.7 L1176.0 1145.0 L1175.6 1147.3 L1175.6 1148.7 L1176.0 1151.0 L1177.0 1152.3 L1178.5 1152.8 L1179.4 1152.8 L1180.9 1152.3 L1181.9 1151.0 L1182.4 1148.7 L1182.4 1147.3 L1181.9 1145.0 L1180.9 1143.7 L1179.4 1143.2 L1178.5 1143.2" stroke="#000" stroke-width="1" fill="none" stroke-linecap="round" stroke-linejoin="round" shape-rendering="crispEdges"><title>-40</title></path>
</svg>
<div class="tl"><span style="left:13.0px;top:38.0px;font-size:27.0px;">FCST Date:</span><span style="left:13.0px;top:68.0px;font-size:27.0px;">2024.01.22</span><span style="left:186.0px;top:33.0px;font-size:32.0px;">CFSv2 Week-2 SLP Variance Forecast for 2024.01.29.12Z-2024.02.05.06Z</span><span style="left:618.0px;top:80.0px;font-size:27.0px;">North Atlantic (hPa^2)</span><span style="left:824.0px;top:155.0px;font-size:25.0px;transform:translateX(-50%);">Total</span><span style="left:824.0px;top:698.0px;font-size:25.0px;transform:translateX(-50%);">Anomaly</span><span style="left:548.0px;top:225.0px;font-size:17.0px;transform:translateX(-100%);">80N</span><span style="left:548.0px;top:301.9px;font-size:17.0px;transform:translateX(-100%);">70N</span><span style="left:548.0px;top:378.8px;font-size:17.0px;transform:translateX(-100%);">60N</span><span style="left:548.0px;top:455.8px;font-size:17.0px;transform:translateX(-100%);">50N</span><span style="left:548.0px;top:532.7px;font-size:17.0px;transform:translateX(-100%);">40N</span><span style="left:548.0px;top:609.6px;font-size:17.0px;transform:translateX(-100%);">30N</span><span style="left:560.5px;top:665.0px;font-size:17.0px;transform:translateX(-50%);">80W</span><span style="left:689.5px;top:665.0px;font-size:17.0px;transform:translateX(-50%);">60W</span><span style="left:817.5px;top:665.0px;font-size:17.0px;transform:translateX(-50%);">40W</span><span style="left:945.5px;top:665.0px;font-size:17.0px;transform:translateX(-50%);">20W</span><span style="left:1074.5px;top:665.0px;font-size:17.0px;transform:translateX(-50%);">0</span><span style="left:548.0px;top:768.0px;font-size:17.0px;transform:translateX(-100%);">80N</span><span style="left:548.0px;top:844.9px;font-size:17.0px;transform:translateX(-100%);">70N</span><span style="left:548.0px;top:921.8px;font-size:17.0px;transform:translateX(-100%);">60N</span><span style="left:548.0px;top:998.8px;font-size:17.0px;transform:translateX(-100%);">50N</span><span style="left:548.0px;top:1075.7px;font-size:17.0px;transform:translateX(-100%);">40N</span><span style="left:548.0px;top:1152.6px;font-size:17.0px;transform:translateX(-100%);">30N</span><span style="left:560.5px;top:1208.0px;font-size:17.0px;transform:translateX(-50%);">80W</span><span style="left:689.5px;top:1208.0px;font-size:17.0px;transform:translateX(-50%);">60W</span><span style="left:817.5px;top:1208.0px;font-size:17.0px;transform:translateX(-50%);">40W</span><span style="left:945.5px;top:1208.0px;font-size:17.0px;transform:translateX(-50%);">20W</span><span style="left:1074.5px;top:1208.0px;font-size:17.0px;transform:translateX(-50%);">0</span><span style="left:1152.0px;top:300.0px;font-size:14.0px;">220</span><span style="left:1152.0px;top:339.6px;font-size:14.0px;">190</span><span style="left:1152.0px;top:379.3px;font-size:14.0px;">160</span><span style="left:1152.0px;top:419.0px;font-size:14.0px;">130</span><span style="left:1152.0px;top:458.5px;font-size:14.0px;">100</span><span style="left:1152.0px;top:498.2px;font-size:14.0px;">70</span><span style="left:1152.0px;top:538.0px;font-size:14.0px;">40</span><span style="left:1152.0px;top:782.8px;font-size:14.0px;">60</span><span style="left:1152.0px;top:822.7px;font-size:14.0px;">50</span><span style="left:1152.0px;top:862.3px;font-size:14.0px;">40</span><span style="left:1152.0px;top:902.4px;font-size:14.0px;">30</span><span style="left:1152.0px;top:942.3px;font-size:14.0px;">20</span><span style="left:1152.0px;top:981.5px;font-size:14.0px;">10</span><span style="left:1152.0px;top:1021.6px;font-size:14.0px;">-10</span><span style="left:1152.0px;top:1061.2px;font-size:14.0px;">-20</span><span style="left:1152.0px;top:1101.3px;font-size:14.0px;">-30</span><span style="left:1152.0px;top:1140.3px;font-size:14.0px;">-40</span></div>
</body></html>
